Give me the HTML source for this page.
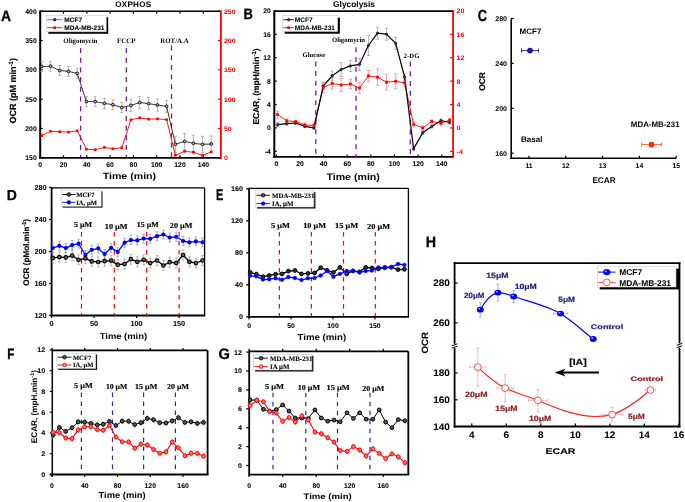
<!DOCTYPE html><html><head><meta charset="utf-8"><style>html,body{margin:0;padding:0;background:#fff;width:685px;height:502px;overflow:hidden}svg{display:block;will-change:transform;text-rendering:geometricPrecision}</style></head><body><svg width="685" height="502" viewBox="0 0 685 502">
<rect width="685" height="502" fill="#fff"/>
<text transform="translate(1.10 20.85) scale(0.921 1)" font-family='"Liberation Sans", sans-serif' font-size="15.07" font-weight="bold" fill="#000" stroke="#000" stroke-width="0.3">A</text>
<text x="133.30" y="6.60" font-family='"Liberation Sans", sans-serif' font-size="8" font-weight="bold" text-anchor="middle" fill="#000" letter-spacing="0.3" stroke="#000" stroke-width="0.05">OXPHOS</text>
<line x1="40.20" y1="157.80" x2="42.70" y2="157.80" stroke="#000" stroke-width="1.2" />
<text x="36.70" y="160.20" font-family='"Liberation Sans", sans-serif' font-size="6.8" font-weight="bold" text-anchor="end" fill="#000"  stroke="#000" stroke-width="0.05">150</text>
<line x1="40.20" y1="128.47" x2="42.70" y2="128.47" stroke="#000" stroke-width="1.2" />
<text x="36.70" y="130.87" font-family='"Liberation Sans", sans-serif' font-size="6.8" font-weight="bold" text-anchor="end" fill="#000"  stroke="#000" stroke-width="0.05">200</text>
<line x1="40.20" y1="99.14" x2="42.70" y2="99.14" stroke="#000" stroke-width="1.2" />
<text x="36.70" y="101.54" font-family='"Liberation Sans", sans-serif' font-size="6.8" font-weight="bold" text-anchor="end" fill="#000"  stroke="#000" stroke-width="0.05">250</text>
<line x1="40.20" y1="69.81" x2="42.70" y2="69.81" stroke="#000" stroke-width="1.2" />
<text x="36.70" y="72.21" font-family='"Liberation Sans", sans-serif' font-size="6.8" font-weight="bold" text-anchor="end" fill="#000"  stroke="#000" stroke-width="0.05">300</text>
<line x1="40.20" y1="40.48" x2="42.70" y2="40.48" stroke="#000" stroke-width="1.2" />
<text x="36.70" y="42.88" font-family='"Liberation Sans", sans-serif' font-size="6.8" font-weight="bold" text-anchor="end" fill="#000"  stroke="#000" stroke-width="0.05">350</text>
<line x1="40.20" y1="11.15" x2="42.70" y2="11.15" stroke="#000" stroke-width="1.2" />
<text x="36.70" y="13.55" font-family='"Liberation Sans", sans-serif' font-size="6.8" font-weight="bold" text-anchor="end" fill="#000"  stroke="#000" stroke-width="0.05">400</text>
<line x1="40.20" y1="157.80" x2="40.20" y2="155.30" stroke="#000" stroke-width="1.2" />
<line x1="40.20" y1="11.20" x2="40.20" y2="13.70" stroke="#000" stroke-width="1.2" />
<text x="40.20" y="167.10" font-family='"Liberation Sans", sans-serif' font-size="6.8" font-weight="bold" text-anchor="middle" fill="#000"  stroke="#000" stroke-width="0.05">0</text>
<line x1="63.50" y1="157.80" x2="63.50" y2="155.30" stroke="#000" stroke-width="1.2" />
<line x1="63.50" y1="11.20" x2="63.50" y2="13.70" stroke="#000" stroke-width="1.2" />
<text x="63.50" y="167.10" font-family='"Liberation Sans", sans-serif' font-size="6.8" font-weight="bold" text-anchor="middle" fill="#000"  stroke="#000" stroke-width="0.05">20</text>
<line x1="86.80" y1="157.80" x2="86.80" y2="155.30" stroke="#000" stroke-width="1.2" />
<line x1="86.80" y1="11.20" x2="86.80" y2="13.70" stroke="#000" stroke-width="1.2" />
<text x="86.80" y="167.10" font-family='"Liberation Sans", sans-serif' font-size="6.8" font-weight="bold" text-anchor="middle" fill="#000"  stroke="#000" stroke-width="0.05">40</text>
<line x1="110.10" y1="157.80" x2="110.10" y2="155.30" stroke="#000" stroke-width="1.2" />
<line x1="110.10" y1="11.20" x2="110.10" y2="13.70" stroke="#000" stroke-width="1.2" />
<text x="110.10" y="167.10" font-family='"Liberation Sans", sans-serif' font-size="6.8" font-weight="bold" text-anchor="middle" fill="#000"  stroke="#000" stroke-width="0.05">60</text>
<line x1="133.40" y1="157.80" x2="133.40" y2="155.30" stroke="#000" stroke-width="1.2" />
<line x1="133.40" y1="11.20" x2="133.40" y2="13.70" stroke="#000" stroke-width="1.2" />
<text x="133.40" y="167.10" font-family='"Liberation Sans", sans-serif' font-size="6.8" font-weight="bold" text-anchor="middle" fill="#000"  stroke="#000" stroke-width="0.05">80</text>
<line x1="156.70" y1="157.80" x2="156.70" y2="155.30" stroke="#000" stroke-width="1.2" />
<line x1="156.70" y1="11.20" x2="156.70" y2="13.70" stroke="#000" stroke-width="1.2" />
<text x="156.70" y="167.10" font-family='"Liberation Sans", sans-serif' font-size="6.8" font-weight="bold" text-anchor="middle" fill="#000"  stroke="#000" stroke-width="0.05">100</text>
<line x1="180.00" y1="157.80" x2="180.00" y2="155.30" stroke="#000" stroke-width="1.2" />
<line x1="180.00" y1="11.20" x2="180.00" y2="13.70" stroke="#000" stroke-width="1.2" />
<text x="180.00" y="167.10" font-family='"Liberation Sans", sans-serif' font-size="6.8" font-weight="bold" text-anchor="middle" fill="#000"  stroke="#000" stroke-width="0.05">120</text>
<line x1="203.30" y1="157.80" x2="203.30" y2="155.30" stroke="#000" stroke-width="1.2" />
<line x1="203.30" y1="11.20" x2="203.30" y2="13.70" stroke="#000" stroke-width="1.2" />
<text x="203.30" y="167.10" font-family='"Liberation Sans", sans-serif' font-size="6.8" font-weight="bold" text-anchor="middle" fill="#000"  stroke="#000" stroke-width="0.05">140</text>
<line x1="220.90" y1="157.80" x2="217.90" y2="157.80" stroke="#ff0000" stroke-width="1.2" />
<text transform="translate(223.90 160.20) scale(1.08 1)" font-family='"Liberation Sans", sans-serif' font-size="6.6" font-weight="bold" text-anchor="start" fill="#ff0000" >0</text>
<line x1="220.90" y1="128.47" x2="217.90" y2="128.47" stroke="#ff0000" stroke-width="1.2" />
<text transform="translate(223.90 130.87) scale(1.08 1)" font-family='"Liberation Sans", sans-serif' font-size="6.6" font-weight="bold" text-anchor="start" fill="#ff0000" >50</text>
<line x1="220.90" y1="99.14" x2="217.90" y2="99.14" stroke="#ff0000" stroke-width="1.2" />
<text transform="translate(223.90 101.54) scale(1.08 1)" font-family='"Liberation Sans", sans-serif' font-size="6.6" font-weight="bold" text-anchor="start" fill="#ff0000" >100</text>
<line x1="220.90" y1="69.81" x2="217.90" y2="69.81" stroke="#ff0000" stroke-width="1.2" />
<text transform="translate(223.90 72.21) scale(1.08 1)" font-family='"Liberation Sans", sans-serif' font-size="6.6" font-weight="bold" text-anchor="start" fill="#ff0000" >150</text>
<line x1="220.90" y1="40.48" x2="217.90" y2="40.48" stroke="#ff0000" stroke-width="1.2" />
<text transform="translate(223.90 42.88) scale(1.08 1)" font-family='"Liberation Sans", sans-serif' font-size="6.6" font-weight="bold" text-anchor="start" fill="#ff0000" >200</text>
<line x1="220.90" y1="11.15" x2="217.90" y2="11.15" stroke="#ff0000" stroke-width="1.2" />
<text transform="translate(223.90 13.55) scale(1.08 1)" font-family='"Liberation Sans", sans-serif' font-size="6.6" font-weight="bold" text-anchor="start" fill="#ff0000" >250</text>
<line x1="40.20" y1="11.20" x2="220.90" y2="11.20" stroke="#000" stroke-width="1.6" />
<line x1="40.20" y1="10.40" x2="40.20" y2="158.70" stroke="#000" stroke-width="2" />
<line x1="39.20" y1="157.80" x2="220.90" y2="157.80" stroke="#000" stroke-width="1.8" />
<line x1="220.90" y1="10.40" x2="220.90" y2="158.70" stroke="#ff0000" stroke-width="1.8" />
<text x="16.50" y="90.80" font-family='"Liberation Sans", sans-serif' font-size="9.0" font-weight="bold" text-anchor="middle" transform="rotate(-90 16.50 90.80)"  stroke="#000" stroke-width="0.15">OCR (pM min<tspan font-size="6.2" dy="-3.3">-1</tspan><tspan dy="3.3">)</tspan></text>
<text transform="translate(102.69 179.10) scale(1.183 1)" font-family='"Liberation Sans", sans-serif' font-size="8.97" font-weight="bold" fill="#000">Time (min)</text>
<line x1="80.60" y1="48.00" x2="80.60" y2="157.00" stroke="#7a1a9a" stroke-width="1.3" stroke-dasharray="5 4.7"/>
<line x1="126.30" y1="48.00" x2="126.30" y2="157.00" stroke="#7a1a9a" stroke-width="1.3" stroke-dasharray="5 4.7"/>
<line x1="171.50" y1="45.50" x2="171.50" y2="157.00" stroke="#7a1a9a" stroke-width="1.3" stroke-dasharray="5 4.7"/>
<text x="80.40" y="43.30" font-family='"Liberation Serif", serif' font-size="6.9" font-weight="bold" text-anchor="middle" fill="#000" >Oligomycin</text>
<text x="126.20" y="43.30" font-family='"Liberation Serif", serif' font-size="6.9" font-weight="bold" text-anchor="middle" fill="#000" >FCCP</text>
<text x="174.50" y="42.80" font-family='"Liberation Serif", serif' font-size="6.9" font-weight="bold" text-anchor="middle" fill="#000" >ROT/A.A</text>
<line x1="41.70" y1="61.60" x2="41.70" y2="71.60" stroke="#999" stroke-width="0.7" />
<line x1="40.10" y1="61.60" x2="43.30" y2="61.60" stroke="#999" stroke-width="0.7" />
<line x1="40.10" y1="71.60" x2="43.30" y2="71.60" stroke="#999" stroke-width="0.7" />
<line x1="50.50" y1="61.20" x2="50.50" y2="71.20" stroke="#999" stroke-width="0.7" />
<line x1="48.90" y1="61.20" x2="52.10" y2="61.20" stroke="#999" stroke-width="0.7" />
<line x1="48.90" y1="71.20" x2="52.10" y2="71.20" stroke="#999" stroke-width="0.7" />
<line x1="59.70" y1="65.50" x2="59.70" y2="75.50" stroke="#999" stroke-width="0.7" />
<line x1="58.10" y1="65.50" x2="61.30" y2="65.50" stroke="#999" stroke-width="0.7" />
<line x1="58.10" y1="75.50" x2="61.30" y2="75.50" stroke="#999" stroke-width="0.7" />
<line x1="68.50" y1="66.40" x2="68.50" y2="76.40" stroke="#999" stroke-width="0.7" />
<line x1="66.90" y1="66.40" x2="70.10" y2="66.40" stroke="#999" stroke-width="0.7" />
<line x1="66.90" y1="76.40" x2="70.10" y2="76.40" stroke="#999" stroke-width="0.7" />
<line x1="77.20" y1="68.40" x2="77.20" y2="78.40" stroke="#999" stroke-width="0.7" />
<line x1="75.60" y1="68.40" x2="78.80" y2="68.40" stroke="#999" stroke-width="0.7" />
<line x1="75.60" y1="78.40" x2="78.80" y2="78.40" stroke="#999" stroke-width="0.7" />
<line x1="86.40" y1="96.60" x2="86.40" y2="106.60" stroke="#999" stroke-width="0.7" />
<line x1="84.80" y1="96.60" x2="88.00" y2="96.60" stroke="#999" stroke-width="0.7" />
<line x1="84.80" y1="106.60" x2="88.00" y2="106.60" stroke="#999" stroke-width="0.7" />
<line x1="95.20" y1="96.60" x2="95.20" y2="106.60" stroke="#999" stroke-width="0.7" />
<line x1="93.60" y1="96.60" x2="96.80" y2="96.60" stroke="#999" stroke-width="0.7" />
<line x1="93.60" y1="106.60" x2="96.80" y2="106.60" stroke="#999" stroke-width="0.7" />
<line x1="104.40" y1="98.40" x2="104.40" y2="108.40" stroke="#999" stroke-width="0.7" />
<line x1="102.80" y1="98.40" x2="106.00" y2="98.40" stroke="#999" stroke-width="0.7" />
<line x1="102.80" y1="108.40" x2="106.00" y2="108.40" stroke="#999" stroke-width="0.7" />
<line x1="112.90" y1="99.70" x2="112.90" y2="109.70" stroke="#999" stroke-width="0.7" />
<line x1="111.30" y1="99.70" x2="114.50" y2="99.70" stroke="#999" stroke-width="0.7" />
<line x1="111.30" y1="109.70" x2="114.50" y2="109.70" stroke="#999" stroke-width="0.7" />
<line x1="121.80" y1="102.60" x2="121.80" y2="112.60" stroke="#999" stroke-width="0.7" />
<line x1="120.20" y1="102.60" x2="123.40" y2="102.60" stroke="#999" stroke-width="0.7" />
<line x1="120.20" y1="112.60" x2="123.40" y2="112.60" stroke="#999" stroke-width="0.7" />
<line x1="130.90" y1="99.40" x2="130.90" y2="111.40" stroke="#999" stroke-width="0.7" />
<line x1="129.30" y1="99.40" x2="132.50" y2="99.40" stroke="#999" stroke-width="0.7" />
<line x1="129.30" y1="111.40" x2="132.50" y2="111.40" stroke="#999" stroke-width="0.7" />
<line x1="139.70" y1="96.50" x2="139.70" y2="108.50" stroke="#999" stroke-width="0.7" />
<line x1="138.10" y1="96.50" x2="141.30" y2="96.50" stroke="#999" stroke-width="0.7" />
<line x1="138.10" y1="108.50" x2="141.30" y2="108.50" stroke="#999" stroke-width="0.7" />
<line x1="148.60" y1="97.70" x2="148.60" y2="109.70" stroke="#999" stroke-width="0.7" />
<line x1="147.00" y1="97.70" x2="150.20" y2="97.70" stroke="#999" stroke-width="0.7" />
<line x1="147.00" y1="109.70" x2="150.20" y2="109.70" stroke="#999" stroke-width="0.7" />
<line x1="157.40" y1="99.00" x2="157.40" y2="111.00" stroke="#999" stroke-width="0.7" />
<line x1="155.80" y1="99.00" x2="159.00" y2="99.00" stroke="#999" stroke-width="0.7" />
<line x1="155.80" y1="111.00" x2="159.00" y2="111.00" stroke="#999" stroke-width="0.7" />
<line x1="166.60" y1="100.30" x2="166.60" y2="112.30" stroke="#999" stroke-width="0.7" />
<line x1="165.00" y1="100.30" x2="168.20" y2="100.30" stroke="#999" stroke-width="0.7" />
<line x1="165.00" y1="112.30" x2="168.20" y2="112.30" stroke="#999" stroke-width="0.7" />
<line x1="175.40" y1="136.30" x2="175.40" y2="152.30" stroke="#999" stroke-width="0.7" />
<line x1="173.80" y1="136.30" x2="177.00" y2="136.30" stroke="#999" stroke-width="0.7" />
<line x1="173.80" y1="152.30" x2="177.00" y2="152.30" stroke="#999" stroke-width="0.7" />
<line x1="184.60" y1="133.40" x2="184.60" y2="149.40" stroke="#999" stroke-width="0.7" />
<line x1="183.00" y1="133.40" x2="186.20" y2="133.40" stroke="#999" stroke-width="0.7" />
<line x1="183.00" y1="149.40" x2="186.20" y2="149.40" stroke="#999" stroke-width="0.7" />
<line x1="193.40" y1="135.30" x2="193.40" y2="151.30" stroke="#999" stroke-width="0.7" />
<line x1="191.80" y1="135.30" x2="195.00" y2="135.30" stroke="#999" stroke-width="0.7" />
<line x1="191.80" y1="151.30" x2="195.00" y2="151.30" stroke="#999" stroke-width="0.7" />
<line x1="202.50" y1="136.30" x2="202.50" y2="152.30" stroke="#999" stroke-width="0.7" />
<line x1="200.90" y1="136.30" x2="204.10" y2="136.30" stroke="#999" stroke-width="0.7" />
<line x1="200.90" y1="152.30" x2="204.10" y2="152.30" stroke="#999" stroke-width="0.7" />
<line x1="211.20" y1="136.00" x2="211.20" y2="152.00" stroke="#999" stroke-width="0.7" />
<line x1="209.60" y1="136.00" x2="212.80" y2="136.00" stroke="#999" stroke-width="0.7" />
<line x1="209.60" y1="152.00" x2="212.80" y2="152.00" stroke="#999" stroke-width="0.7" />
<polyline points="41.70,66.60 50.50,66.20 59.70,70.50 68.50,71.40 77.20,73.40 86.40,101.60 95.20,101.60 104.40,103.40 112.90,104.70 121.80,107.60 130.90,105.40 139.70,102.50 148.60,103.70 157.40,105.00 166.60,106.30 175.40,144.30 184.60,141.40 193.40,143.30 202.50,144.30 211.20,144.00" fill="none" stroke="#222" stroke-width="0.9" stroke-linejoin="round"/>
<polyline points="41.70,135.60 50.50,131.30 59.70,131.70 68.50,132.10 77.20,130.80 86.40,149.20 95.20,149.80 104.40,147.40 112.90,148.80 121.80,147.80 130.90,119.80 139.70,117.80 148.60,119.20 157.40,118.90 166.60,119.60 175.40,155.30 184.60,151.30 193.40,152.30 202.50,155.30 211.20,151.90" fill="none" stroke="#ff0000" stroke-width="0.9" stroke-linejoin="round"/>
<circle cx="41.70" cy="66.60" r="1.4" fill="#bbb" stroke="#000" stroke-width="0.9"/>
<circle cx="50.50" cy="66.20" r="1.4" fill="#bbb" stroke="#000" stroke-width="0.9"/>
<circle cx="59.70" cy="70.50" r="1.4" fill="#bbb" stroke="#000" stroke-width="0.9"/>
<circle cx="68.50" cy="71.40" r="1.4" fill="#bbb" stroke="#000" stroke-width="0.9"/>
<circle cx="77.20" cy="73.40" r="1.4" fill="#bbb" stroke="#000" stroke-width="0.9"/>
<circle cx="86.40" cy="101.60" r="1.4" fill="#bbb" stroke="#000" stroke-width="0.9"/>
<circle cx="95.20" cy="101.60" r="1.4" fill="#bbb" stroke="#000" stroke-width="0.9"/>
<circle cx="104.40" cy="103.40" r="1.4" fill="#bbb" stroke="#000" stroke-width="0.9"/>
<circle cx="112.90" cy="104.70" r="1.4" fill="#bbb" stroke="#000" stroke-width="0.9"/>
<circle cx="121.80" cy="107.60" r="1.4" fill="#bbb" stroke="#000" stroke-width="0.9"/>
<circle cx="130.90" cy="105.40" r="1.4" fill="#bbb" stroke="#000" stroke-width="0.9"/>
<circle cx="139.70" cy="102.50" r="1.4" fill="#bbb" stroke="#000" stroke-width="0.9"/>
<circle cx="148.60" cy="103.70" r="1.4" fill="#bbb" stroke="#000" stroke-width="0.9"/>
<circle cx="157.40" cy="105.00" r="1.4" fill="#bbb" stroke="#000" stroke-width="0.9"/>
<circle cx="166.60" cy="106.30" r="1.4" fill="#bbb" stroke="#000" stroke-width="0.9"/>
<circle cx="175.40" cy="144.30" r="1.4" fill="#bbb" stroke="#000" stroke-width="0.9"/>
<circle cx="184.60" cy="141.40" r="1.4" fill="#bbb" stroke="#000" stroke-width="0.9"/>
<circle cx="193.40" cy="143.30" r="1.4" fill="#bbb" stroke="#000" stroke-width="0.9"/>
<circle cx="202.50" cy="144.30" r="1.4" fill="#bbb" stroke="#000" stroke-width="0.9"/>
<circle cx="211.20" cy="144.00" r="1.4" fill="#bbb" stroke="#000" stroke-width="0.9"/>
<rect x="40.40" y="134.30" width="2.60" height="2.60" fill="#ff0000" stroke="none" stroke-width="0"/>
<rect x="49.20" y="130.00" width="2.60" height="2.60" fill="#ff0000" stroke="none" stroke-width="0"/>
<rect x="58.40" y="130.40" width="2.60" height="2.60" fill="#ff0000" stroke="none" stroke-width="0"/>
<rect x="67.20" y="130.80" width="2.60" height="2.60" fill="#ff0000" stroke="none" stroke-width="0"/>
<rect x="75.90" y="129.50" width="2.60" height="2.60" fill="#ff0000" stroke="none" stroke-width="0"/>
<rect x="85.10" y="147.90" width="2.60" height="2.60" fill="#ff0000" stroke="none" stroke-width="0"/>
<rect x="93.90" y="148.50" width="2.60" height="2.60" fill="#ff0000" stroke="none" stroke-width="0"/>
<rect x="103.10" y="146.10" width="2.60" height="2.60" fill="#ff0000" stroke="none" stroke-width="0"/>
<rect x="111.60" y="147.50" width="2.60" height="2.60" fill="#ff0000" stroke="none" stroke-width="0"/>
<rect x="120.50" y="146.50" width="2.60" height="2.60" fill="#ff0000" stroke="none" stroke-width="0"/>
<rect x="129.60" y="118.50" width="2.60" height="2.60" fill="#ff0000" stroke="none" stroke-width="0"/>
<rect x="138.40" y="116.50" width="2.60" height="2.60" fill="#ff0000" stroke="none" stroke-width="0"/>
<rect x="147.30" y="117.90" width="2.60" height="2.60" fill="#ff0000" stroke="none" stroke-width="0"/>
<rect x="156.10" y="117.60" width="2.60" height="2.60" fill="#ff0000" stroke="none" stroke-width="0"/>
<rect x="165.30" y="118.30" width="2.60" height="2.60" fill="#ff0000" stroke="none" stroke-width="0"/>
<rect x="174.10" y="154.00" width="2.60" height="2.60" fill="#ff0000" stroke="none" stroke-width="0"/>
<rect x="183.30" y="150.00" width="2.60" height="2.60" fill="#ff0000" stroke="none" stroke-width="0"/>
<rect x="192.10" y="151.00" width="2.60" height="2.60" fill="#ff0000" stroke="none" stroke-width="0"/>
<rect x="201.20" y="154.00" width="2.60" height="2.60" fill="#ff0000" stroke="none" stroke-width="0"/>
<rect x="209.90" y="150.60" width="2.60" height="2.60" fill="#ff0000" stroke="none" stroke-width="0"/>
<rect x="48.40" y="17.30" width="59.80" height="16.50" fill="#000" stroke="none" stroke-width="0"/>
<rect x="46.40" y="15.30" width="59.80" height="16.50" fill="#fff" stroke="#c8c8c8" stroke-width="0.6"/>
<line x1="47.20" y1="19.70" x2="62.20" y2="19.70" stroke="#666" stroke-width="0.9" />
<circle cx="54.70" cy="19.70" r="1.2" fill="#555" stroke="#000" stroke-width="0.9"/>
<text x="64.30" y="22.00" font-family='"Liberation Sans", sans-serif' font-size="6.5" font-weight="bold" text-anchor="start" fill="#000"  stroke="#000" stroke-width="0.1">MCF7</text>
<line x1="47.20" y1="27.70" x2="62.20" y2="27.70" stroke="#ff0000" stroke-width="0.9" />
<rect x="53.40" y="26.40" width="2.60" height="2.60" fill="#ff0000" stroke="none" stroke-width="0"/>
<text x="64.30" y="30.00" font-family='"Liberation Sans", sans-serif' font-size="6.5" font-weight="bold" text-anchor="start" fill="#000"  stroke="#000" stroke-width="0.1">MDA-MB-231</text>
<text transform="translate(243.41 18.55) scale(0.859 1)" font-family='"Liberation Sans", sans-serif' font-size="15.07" font-weight="bold" fill="#000" stroke="#000" stroke-width="0.3">B</text>
<text x="354.00" y="7.00" font-family='"Liberation Sans", sans-serif' font-size="8.4" font-weight="bold" text-anchor="middle" fill="#000"  stroke="#000" stroke-width="0.05">Glycolysis</text>
<line x1="274.30" y1="151.30" x2="276.80" y2="151.30" stroke="#000" stroke-width="1.2" />
<text x="270.80" y="153.70" font-family='"Liberation Sans", sans-serif' font-size="6.8" font-weight="bold" text-anchor="end" fill="#000"  stroke="#000" stroke-width="0.05">-4</text>
<line x1="453.10" y1="151.30" x2="450.10" y2="151.30" stroke="#ff0000" stroke-width="1.2" />
<text transform="translate(456.60 153.70) scale(1.08 1)" font-family='"Liberation Sans", sans-serif' font-size="6.6" font-weight="bold" text-anchor="start" fill="#ff0000" >-4</text>
<line x1="274.30" y1="127.90" x2="276.80" y2="127.90" stroke="#000" stroke-width="1.2" />
<text x="270.80" y="130.30" font-family='"Liberation Sans", sans-serif' font-size="6.8" font-weight="bold" text-anchor="end" fill="#000"  stroke="#000" stroke-width="0.05">0</text>
<line x1="453.10" y1="127.90" x2="450.10" y2="127.90" stroke="#ff0000" stroke-width="1.2" />
<text transform="translate(456.60 130.30) scale(1.08 1)" font-family='"Liberation Sans", sans-serif' font-size="6.6" font-weight="bold" text-anchor="start" fill="#ff0000" >0</text>
<line x1="274.30" y1="104.50" x2="276.80" y2="104.50" stroke="#000" stroke-width="1.2" />
<text x="270.80" y="106.90" font-family='"Liberation Sans", sans-serif' font-size="6.8" font-weight="bold" text-anchor="end" fill="#000"  stroke="#000" stroke-width="0.05">4</text>
<line x1="453.10" y1="104.50" x2="450.10" y2="104.50" stroke="#ff0000" stroke-width="1.2" />
<text transform="translate(456.60 106.90) scale(1.08 1)" font-family='"Liberation Sans", sans-serif' font-size="6.6" font-weight="bold" text-anchor="start" fill="#ff0000" >4</text>
<line x1="274.30" y1="81.10" x2="276.80" y2="81.10" stroke="#000" stroke-width="1.2" />
<text x="270.80" y="83.50" font-family='"Liberation Sans", sans-serif' font-size="6.8" font-weight="bold" text-anchor="end" fill="#000"  stroke="#000" stroke-width="0.05">8</text>
<line x1="453.10" y1="81.10" x2="450.10" y2="81.10" stroke="#ff0000" stroke-width="1.2" />
<text transform="translate(456.60 83.50) scale(1.08 1)" font-family='"Liberation Sans", sans-serif' font-size="6.6" font-weight="bold" text-anchor="start" fill="#ff0000" >8</text>
<line x1="274.30" y1="57.70" x2="276.80" y2="57.70" stroke="#000" stroke-width="1.2" />
<text x="270.80" y="60.10" font-family='"Liberation Sans", sans-serif' font-size="6.8" font-weight="bold" text-anchor="end" fill="#000"  stroke="#000" stroke-width="0.05">12</text>
<line x1="453.10" y1="57.70" x2="450.10" y2="57.70" stroke="#ff0000" stroke-width="1.2" />
<text transform="translate(456.60 60.10) scale(1.08 1)" font-family='"Liberation Sans", sans-serif' font-size="6.6" font-weight="bold" text-anchor="start" fill="#ff0000" >12</text>
<line x1="274.30" y1="34.30" x2="276.80" y2="34.30" stroke="#000" stroke-width="1.2" />
<text x="270.80" y="36.70" font-family='"Liberation Sans", sans-serif' font-size="6.8" font-weight="bold" text-anchor="end" fill="#000"  stroke="#000" stroke-width="0.05">16</text>
<line x1="453.10" y1="34.30" x2="450.10" y2="34.30" stroke="#ff0000" stroke-width="1.2" />
<text transform="translate(456.60 36.70) scale(1.08 1)" font-family='"Liberation Sans", sans-serif' font-size="6.6" font-weight="bold" text-anchor="start" fill="#ff0000" >16</text>
<line x1="274.30" y1="10.90" x2="276.80" y2="10.90" stroke="#000" stroke-width="1.2" />
<text x="270.80" y="13.30" font-family='"Liberation Sans", sans-serif' font-size="6.8" font-weight="bold" text-anchor="end" fill="#000"  stroke="#000" stroke-width="0.05">20</text>
<line x1="453.10" y1="10.90" x2="450.10" y2="10.90" stroke="#ff0000" stroke-width="1.2" />
<text transform="translate(456.60 13.30) scale(1.08 1)" font-family='"Liberation Sans", sans-serif' font-size="6.6" font-weight="bold" text-anchor="start" fill="#ff0000" >20</text>
<line x1="276.30" y1="156.90" x2="276.30" y2="154.40" stroke="#000" stroke-width="1.2" />
<text x="276.30" y="166.20" font-family='"Liberation Sans", sans-serif' font-size="6.8" font-weight="bold" text-anchor="middle" fill="#000"  stroke="#000" stroke-width="0.05">0</text>
<line x1="299.93" y1="156.90" x2="299.93" y2="154.40" stroke="#000" stroke-width="1.2" />
<text x="299.93" y="166.20" font-family='"Liberation Sans", sans-serif' font-size="6.8" font-weight="bold" text-anchor="middle" fill="#000"  stroke="#000" stroke-width="0.05">20</text>
<line x1="323.56" y1="156.90" x2="323.56" y2="154.40" stroke="#000" stroke-width="1.2" />
<text x="323.56" y="166.20" font-family='"Liberation Sans", sans-serif' font-size="6.8" font-weight="bold" text-anchor="middle" fill="#000"  stroke="#000" stroke-width="0.05">40</text>
<line x1="347.19" y1="156.90" x2="347.19" y2="154.40" stroke="#000" stroke-width="1.2" />
<text x="347.19" y="166.20" font-family='"Liberation Sans", sans-serif' font-size="6.8" font-weight="bold" text-anchor="middle" fill="#000"  stroke="#000" stroke-width="0.05">60</text>
<line x1="370.82" y1="156.90" x2="370.82" y2="154.40" stroke="#000" stroke-width="1.2" />
<text x="370.82" y="166.20" font-family='"Liberation Sans", sans-serif' font-size="6.8" font-weight="bold" text-anchor="middle" fill="#000"  stroke="#000" stroke-width="0.05">80</text>
<line x1="394.45" y1="156.90" x2="394.45" y2="154.40" stroke="#000" stroke-width="1.2" />
<text x="394.45" y="166.20" font-family='"Liberation Sans", sans-serif' font-size="6.8" font-weight="bold" text-anchor="middle" fill="#000"  stroke="#000" stroke-width="0.05">100</text>
<line x1="418.08" y1="156.90" x2="418.08" y2="154.40" stroke="#000" stroke-width="1.2" />
<text x="418.08" y="166.20" font-family='"Liberation Sans", sans-serif' font-size="6.8" font-weight="bold" text-anchor="middle" fill="#000"  stroke="#000" stroke-width="0.05">120</text>
<line x1="441.71" y1="156.90" x2="441.71" y2="154.40" stroke="#000" stroke-width="1.2" />
<text x="441.71" y="166.20" font-family='"Liberation Sans", sans-serif' font-size="6.8" font-weight="bold" text-anchor="middle" fill="#000"  stroke="#000" stroke-width="0.05">140</text>
<line x1="274.30" y1="11.10" x2="453.10" y2="11.10" stroke="#000" stroke-width="1.6" />
<line x1="274.30" y1="10.30" x2="274.30" y2="157.80" stroke="#000" stroke-width="2" />
<line x1="273.30" y1="156.90" x2="453.10" y2="156.90" stroke="#000" stroke-width="1.8" />
<line x1="453.10" y1="10.30" x2="453.10" y2="157.80" stroke="#ff0000" stroke-width="1.8" />
<text x="259.20" y="86.50" font-family='"Liberation Sans", sans-serif' font-size="8.5" font-weight="bold" text-anchor="middle" transform="rotate(-90 259.20 86.50)"  stroke="#000" stroke-width="0.15">ECAR, (mpH/min<tspan font-size="6.0" dy="-3.2">-1</tspan><tspan dy="3.2">)</tspan></text>
<text transform="translate(326.39 180.30) scale(1.133 1)" font-family='"Liberation Sans", sans-serif' font-size="9.38" font-weight="bold" fill="#000">Time (min)</text>
<line x1="315.80" y1="61.40" x2="315.80" y2="154.00" stroke="#7a1a9a" stroke-width="1.3" stroke-dasharray="5 4.7"/>
<line x1="356.00" y1="47.30" x2="356.00" y2="157.00" stroke="#7a1a9a" stroke-width="1.3" stroke-dasharray="5 4.7"/>
<line x1="410.30" y1="61.60" x2="410.30" y2="154.00" stroke="#7a1a9a" stroke-width="1.3" stroke-dasharray="5 4.7"/>
<text x="313.80" y="57.20" font-family='"Liberation Serif", serif' font-size="6.7" font-weight="bold" text-anchor="middle" fill="#000" >Glucose</text>
<text x="348.50" y="42.20" font-family='"Liberation Serif", serif' font-size="6.7" font-weight="bold" text-anchor="middle" fill="#000" >Oligomycin</text>
<text x="411.60" y="58.20" font-family='"Liberation Serif", serif' font-size="6.7" font-weight="bold" text-anchor="middle" fill="#000" >2-DG</text>
<line x1="277.50" y1="122.70" x2="277.50" y2="126.70" stroke="#999" stroke-width="0.7" />
<line x1="275.90" y1="122.70" x2="279.10" y2="122.70" stroke="#999" stroke-width="0.7" />
<line x1="275.90" y1="126.70" x2="279.10" y2="126.70" stroke="#999" stroke-width="0.7" />
<line x1="286.70" y1="122.20" x2="286.70" y2="125.20" stroke="#999" stroke-width="0.7" />
<line x1="285.10" y1="122.20" x2="288.30" y2="122.20" stroke="#999" stroke-width="0.7" />
<line x1="285.10" y1="125.20" x2="288.30" y2="125.20" stroke="#999" stroke-width="0.7" />
<line x1="295.70" y1="121.50" x2="295.70" y2="124.50" stroke="#999" stroke-width="0.7" />
<line x1="294.10" y1="121.50" x2="297.30" y2="121.50" stroke="#999" stroke-width="0.7" />
<line x1="294.10" y1="124.50" x2="297.30" y2="124.50" stroke="#999" stroke-width="0.7" />
<line x1="304.80" y1="124.80" x2="304.80" y2="127.80" stroke="#999" stroke-width="0.7" />
<line x1="303.20" y1="124.80" x2="306.40" y2="124.80" stroke="#999" stroke-width="0.7" />
<line x1="303.20" y1="127.80" x2="306.40" y2="127.80" stroke="#999" stroke-width="0.7" />
<line x1="314.00" y1="126.40" x2="314.00" y2="129.40" stroke="#999" stroke-width="0.7" />
<line x1="312.40" y1="126.40" x2="315.60" y2="126.40" stroke="#999" stroke-width="0.7" />
<line x1="312.40" y1="129.40" x2="315.60" y2="129.40" stroke="#999" stroke-width="0.7" />
<line x1="323.20" y1="83.00" x2="323.20" y2="89.00" stroke="#999" stroke-width="0.7" />
<line x1="321.60" y1="83.00" x2="324.80" y2="83.00" stroke="#999" stroke-width="0.7" />
<line x1="321.60" y1="89.00" x2="324.80" y2="89.00" stroke="#999" stroke-width="0.7" />
<line x1="332.20" y1="71.00" x2="332.20" y2="80.60" stroke="#999" stroke-width="0.7" />
<line x1="330.60" y1="71.00" x2="333.80" y2="71.00" stroke="#999" stroke-width="0.7" />
<line x1="330.60" y1="80.60" x2="333.80" y2="80.60" stroke="#999" stroke-width="0.7" />
<line x1="341.20" y1="62.60" x2="341.20" y2="76.40" stroke="#999" stroke-width="0.7" />
<line x1="339.60" y1="62.60" x2="342.80" y2="62.60" stroke="#999" stroke-width="0.7" />
<line x1="339.60" y1="76.40" x2="342.80" y2="76.40" stroke="#999" stroke-width="0.7" />
<line x1="350.40" y1="60.40" x2="350.40" y2="71.40" stroke="#999" stroke-width="0.7" />
<line x1="348.80" y1="60.40" x2="352.00" y2="60.40" stroke="#999" stroke-width="0.7" />
<line x1="348.80" y1="71.40" x2="352.00" y2="71.40" stroke="#999" stroke-width="0.7" />
<line x1="359.40" y1="58.40" x2="359.40" y2="70.40" stroke="#999" stroke-width="0.7" />
<line x1="357.80" y1="58.40" x2="361.00" y2="58.40" stroke="#999" stroke-width="0.7" />
<line x1="357.80" y1="70.40" x2="361.00" y2="70.40" stroke="#999" stroke-width="0.7" />
<line x1="368.40" y1="35.50" x2="368.40" y2="55.50" stroke="#999" stroke-width="0.7" />
<line x1="366.80" y1="35.50" x2="370.00" y2="35.50" stroke="#999" stroke-width="0.7" />
<line x1="366.80" y1="55.50" x2="370.00" y2="55.50" stroke="#999" stroke-width="0.7" />
<line x1="377.50" y1="27.10" x2="377.50" y2="39.10" stroke="#999" stroke-width="0.7" />
<line x1="375.90" y1="27.10" x2="379.10" y2="27.10" stroke="#999" stroke-width="0.7" />
<line x1="375.90" y1="39.10" x2="379.10" y2="39.10" stroke="#999" stroke-width="0.7" />
<line x1="386.50" y1="28.20" x2="386.50" y2="40.20" stroke="#999" stroke-width="0.7" />
<line x1="384.90" y1="28.20" x2="388.10" y2="28.20" stroke="#999" stroke-width="0.7" />
<line x1="384.90" y1="40.20" x2="388.10" y2="40.20" stroke="#999" stroke-width="0.7" />
<line x1="395.70" y1="37.40" x2="395.70" y2="49.40" stroke="#999" stroke-width="0.7" />
<line x1="394.10" y1="37.40" x2="397.30" y2="37.40" stroke="#999" stroke-width="0.7" />
<line x1="394.10" y1="49.40" x2="397.30" y2="49.40" stroke="#999" stroke-width="0.7" />
<line x1="404.60" y1="74.00" x2="404.60" y2="80.00" stroke="#999" stroke-width="0.7" />
<line x1="403.00" y1="74.00" x2="406.20" y2="74.00" stroke="#999" stroke-width="0.7" />
<line x1="403.00" y1="80.00" x2="406.20" y2="80.00" stroke="#999" stroke-width="0.7" />
<line x1="413.60" y1="146.90" x2="413.60" y2="150.90" stroke="#999" stroke-width="0.7" />
<line x1="412.00" y1="146.90" x2="415.20" y2="146.90" stroke="#999" stroke-width="0.7" />
<line x1="412.00" y1="150.90" x2="415.20" y2="150.90" stroke="#999" stroke-width="0.7" />
<line x1="422.70" y1="130.70" x2="422.70" y2="134.70" stroke="#999" stroke-width="0.7" />
<line x1="421.10" y1="130.70" x2="424.30" y2="130.70" stroke="#999" stroke-width="0.7" />
<line x1="421.10" y1="134.70" x2="424.30" y2="134.70" stroke="#999" stroke-width="0.7" />
<line x1="431.70" y1="125.00" x2="431.70" y2="128.00" stroke="#999" stroke-width="0.7" />
<line x1="430.10" y1="125.00" x2="433.30" y2="125.00" stroke="#999" stroke-width="0.7" />
<line x1="430.10" y1="128.00" x2="433.30" y2="128.00" stroke="#999" stroke-width="0.7" />
<line x1="441.00" y1="119.00" x2="441.00" y2="122.00" stroke="#999" stroke-width="0.7" />
<line x1="439.40" y1="119.00" x2="442.60" y2="119.00" stroke="#999" stroke-width="0.7" />
<line x1="439.40" y1="122.00" x2="442.60" y2="122.00" stroke="#999" stroke-width="0.7" />
<line x1="449.60" y1="121.00" x2="449.60" y2="124.00" stroke="#999" stroke-width="0.7" />
<line x1="448.00" y1="121.00" x2="451.20" y2="121.00" stroke="#999" stroke-width="0.7" />
<line x1="448.00" y1="124.00" x2="451.20" y2="124.00" stroke="#999" stroke-width="0.7" />
<line x1="277.50" y1="111.10" x2="277.50" y2="118.10" stroke="#f08080" stroke-width="0.7" />
<line x1="275.90" y1="111.10" x2="279.10" y2="111.10" stroke="#f08080" stroke-width="0.7" />
<line x1="275.90" y1="118.10" x2="279.10" y2="118.10" stroke="#f08080" stroke-width="0.7" />
<line x1="286.70" y1="118.80" x2="286.70" y2="122.80" stroke="#f08080" stroke-width="0.7" />
<line x1="285.10" y1="118.80" x2="288.30" y2="118.80" stroke="#f08080" stroke-width="0.7" />
<line x1="285.10" y1="122.80" x2="288.30" y2="122.80" stroke="#f08080" stroke-width="0.7" />
<line x1="295.70" y1="120.20" x2="295.70" y2="123.20" stroke="#f08080" stroke-width="0.7" />
<line x1="294.10" y1="120.20" x2="297.30" y2="120.20" stroke="#f08080" stroke-width="0.7" />
<line x1="294.10" y1="123.20" x2="297.30" y2="123.20" stroke="#f08080" stroke-width="0.7" />
<line x1="304.80" y1="123.00" x2="304.80" y2="127.00" stroke="#f08080" stroke-width="0.7" />
<line x1="303.20" y1="123.00" x2="306.40" y2="123.00" stroke="#f08080" stroke-width="0.7" />
<line x1="303.20" y1="127.00" x2="306.40" y2="127.00" stroke="#f08080" stroke-width="0.7" />
<line x1="314.00" y1="123.40" x2="314.00" y2="127.40" stroke="#f08080" stroke-width="0.7" />
<line x1="312.40" y1="123.40" x2="315.60" y2="123.40" stroke="#f08080" stroke-width="0.7" />
<line x1="312.40" y1="127.40" x2="315.60" y2="127.40" stroke="#f08080" stroke-width="0.7" />
<line x1="323.20" y1="82.10" x2="323.20" y2="93.10" stroke="#f08080" stroke-width="0.7" />
<line x1="321.60" y1="82.10" x2="324.80" y2="82.10" stroke="#f08080" stroke-width="0.7" />
<line x1="321.60" y1="93.10" x2="324.80" y2="93.10" stroke="#f08080" stroke-width="0.7" />
<line x1="332.20" y1="77.60" x2="332.20" y2="89.20" stroke="#f08080" stroke-width="0.7" />
<line x1="330.60" y1="77.60" x2="333.80" y2="77.60" stroke="#f08080" stroke-width="0.7" />
<line x1="330.60" y1="89.20" x2="333.80" y2="89.20" stroke="#f08080" stroke-width="0.7" />
<line x1="341.20" y1="78.50" x2="341.20" y2="91.50" stroke="#f08080" stroke-width="0.7" />
<line x1="339.60" y1="78.50" x2="342.80" y2="78.50" stroke="#f08080" stroke-width="0.7" />
<line x1="339.60" y1="91.50" x2="342.80" y2="91.50" stroke="#f08080" stroke-width="0.7" />
<line x1="350.40" y1="79.20" x2="350.40" y2="88.80" stroke="#f08080" stroke-width="0.7" />
<line x1="348.80" y1="79.20" x2="352.00" y2="79.20" stroke="#f08080" stroke-width="0.7" />
<line x1="348.80" y1="88.80" x2="352.00" y2="88.80" stroke="#f08080" stroke-width="0.7" />
<line x1="359.40" y1="82.50" x2="359.40" y2="93.50" stroke="#f08080" stroke-width="0.7" />
<line x1="357.80" y1="82.50" x2="361.00" y2="82.50" stroke="#f08080" stroke-width="0.7" />
<line x1="357.80" y1="93.50" x2="361.00" y2="93.50" stroke="#f08080" stroke-width="0.7" />
<line x1="368.40" y1="70.40" x2="368.40" y2="81.40" stroke="#f08080" stroke-width="0.7" />
<line x1="366.80" y1="70.40" x2="370.00" y2="70.40" stroke="#f08080" stroke-width="0.7" />
<line x1="366.80" y1="81.40" x2="370.00" y2="81.40" stroke="#f08080" stroke-width="0.7" />
<line x1="377.50" y1="69.00" x2="377.50" y2="85.40" stroke="#f08080" stroke-width="0.7" />
<line x1="375.90" y1="69.00" x2="379.10" y2="69.00" stroke="#f08080" stroke-width="0.7" />
<line x1="375.90" y1="85.40" x2="379.10" y2="85.40" stroke="#f08080" stroke-width="0.7" />
<line x1="386.50" y1="74.30" x2="386.50" y2="90.10" stroke="#f08080" stroke-width="0.7" />
<line x1="384.90" y1="74.30" x2="388.10" y2="74.30" stroke="#f08080" stroke-width="0.7" />
<line x1="384.90" y1="90.10" x2="388.10" y2="90.10" stroke="#f08080" stroke-width="0.7" />
<line x1="395.70" y1="73.80" x2="395.70" y2="88.80" stroke="#f08080" stroke-width="0.7" />
<line x1="394.10" y1="73.80" x2="397.30" y2="73.80" stroke="#f08080" stroke-width="0.7" />
<line x1="394.10" y1="88.80" x2="397.30" y2="88.80" stroke="#f08080" stroke-width="0.7" />
<line x1="404.60" y1="78.90" x2="404.60" y2="86.90" stroke="#f08080" stroke-width="0.7" />
<line x1="403.00" y1="78.90" x2="406.20" y2="78.90" stroke="#f08080" stroke-width="0.7" />
<line x1="403.00" y1="86.90" x2="406.20" y2="86.90" stroke="#f08080" stroke-width="0.7" />
<line x1="413.60" y1="121.80" x2="413.60" y2="126.80" stroke="#f08080" stroke-width="0.7" />
<line x1="412.00" y1="121.80" x2="415.20" y2="121.80" stroke="#f08080" stroke-width="0.7" />
<line x1="412.00" y1="126.80" x2="415.20" y2="126.80" stroke="#f08080" stroke-width="0.7" />
<line x1="422.70" y1="125.90" x2="422.70" y2="129.90" stroke="#f08080" stroke-width="0.7" />
<line x1="421.10" y1="125.90" x2="424.30" y2="125.90" stroke="#f08080" stroke-width="0.7" />
<line x1="421.10" y1="129.90" x2="424.30" y2="129.90" stroke="#f08080" stroke-width="0.7" />
<line x1="431.70" y1="119.90" x2="431.70" y2="122.90" stroke="#f08080" stroke-width="0.7" />
<line x1="430.10" y1="119.90" x2="433.30" y2="119.90" stroke="#f08080" stroke-width="0.7" />
<line x1="430.10" y1="122.90" x2="433.30" y2="122.90" stroke="#f08080" stroke-width="0.7" />
<line x1="441.00" y1="121.70" x2="441.00" y2="124.70" stroke="#f08080" stroke-width="0.7" />
<line x1="439.40" y1="121.70" x2="442.60" y2="121.70" stroke="#f08080" stroke-width="0.7" />
<line x1="439.40" y1="124.70" x2="442.60" y2="124.70" stroke="#f08080" stroke-width="0.7" />
<line x1="449.60" y1="118.70" x2="449.60" y2="121.70" stroke="#f08080" stroke-width="0.7" />
<line x1="448.00" y1="118.70" x2="451.20" y2="118.70" stroke="#f08080" stroke-width="0.7" />
<line x1="448.00" y1="121.70" x2="451.20" y2="121.70" stroke="#f08080" stroke-width="0.7" />
<polyline points="277.50,114.60 286.70,120.80 295.70,121.70 304.80,125.00 314.00,125.40 323.20,87.60 332.20,83.40 341.20,85.00 350.40,84.00 359.40,88.00 368.40,75.90 377.50,77.20 386.50,82.20 395.70,81.30 404.60,82.90 413.60,124.30 422.70,127.90 431.70,121.40 441.00,123.20 449.60,120.20" fill="none" stroke="#ff0000" stroke-width="0.9" stroke-linejoin="round"/>
<polyline points="277.50,124.70 286.70,123.70 295.70,123.00 304.80,126.30 314.00,127.90 323.20,86.00 332.20,75.80 341.20,69.50 350.40,65.90 359.40,64.40 368.40,45.50 377.50,33.10 386.50,34.20 395.70,43.40 404.60,77.00 413.60,148.90 422.70,132.70 431.70,126.50 441.00,120.50 449.60,122.50" fill="none" stroke="#000" stroke-width="1.2" stroke-linejoin="round"/>
<circle cx="277.50" cy="124.70" r="1.2" fill="#444" stroke="#000" stroke-width="0.6"/>
<circle cx="286.70" cy="123.70" r="1.2" fill="#444" stroke="#000" stroke-width="0.6"/>
<circle cx="295.70" cy="123.00" r="1.2" fill="#444" stroke="#000" stroke-width="0.6"/>
<circle cx="304.80" cy="126.30" r="1.2" fill="#444" stroke="#000" stroke-width="0.6"/>
<circle cx="314.00" cy="127.90" r="1.2" fill="#444" stroke="#000" stroke-width="0.6"/>
<circle cx="323.20" cy="86.00" r="1.2" fill="#444" stroke="#000" stroke-width="0.6"/>
<circle cx="332.20" cy="75.80" r="1.2" fill="#444" stroke="#000" stroke-width="0.6"/>
<circle cx="341.20" cy="69.50" r="1.2" fill="#444" stroke="#000" stroke-width="0.6"/>
<circle cx="350.40" cy="65.90" r="1.2" fill="#444" stroke="#000" stroke-width="0.6"/>
<circle cx="359.40" cy="64.40" r="1.2" fill="#444" stroke="#000" stroke-width="0.6"/>
<circle cx="368.40" cy="45.50" r="1.2" fill="#444" stroke="#000" stroke-width="0.6"/>
<circle cx="377.50" cy="33.10" r="1.2" fill="#444" stroke="#000" stroke-width="0.6"/>
<circle cx="386.50" cy="34.20" r="1.2" fill="#444" stroke="#000" stroke-width="0.6"/>
<circle cx="395.70" cy="43.40" r="1.2" fill="#444" stroke="#000" stroke-width="0.6"/>
<circle cx="404.60" cy="77.00" r="1.2" fill="#444" stroke="#000" stroke-width="0.6"/>
<circle cx="413.60" cy="148.90" r="1.2" fill="#444" stroke="#000" stroke-width="0.6"/>
<circle cx="422.70" cy="132.70" r="1.2" fill="#444" stroke="#000" stroke-width="0.6"/>
<circle cx="431.70" cy="126.50" r="1.2" fill="#444" stroke="#000" stroke-width="0.6"/>
<circle cx="441.00" cy="120.50" r="1.2" fill="#444" stroke="#000" stroke-width="0.6"/>
<circle cx="449.60" cy="122.50" r="1.2" fill="#444" stroke="#000" stroke-width="0.6"/>
<rect x="276.10" y="113.20" width="2.80" height="2.80" fill="#ff0000" stroke="none" stroke-width="0"/>
<rect x="285.30" y="119.40" width="2.80" height="2.80" fill="#ff0000" stroke="none" stroke-width="0"/>
<rect x="294.30" y="120.30" width="2.80" height="2.80" fill="#ff0000" stroke="none" stroke-width="0"/>
<rect x="303.40" y="123.60" width="2.80" height="2.80" fill="#ff0000" stroke="none" stroke-width="0"/>
<rect x="312.60" y="124.00" width="2.80" height="2.80" fill="#ff0000" stroke="none" stroke-width="0"/>
<rect x="321.80" y="86.20" width="2.80" height="2.80" fill="#ff0000" stroke="none" stroke-width="0"/>
<rect x="330.80" y="82.00" width="2.80" height="2.80" fill="#ff0000" stroke="none" stroke-width="0"/>
<rect x="339.80" y="83.60" width="2.80" height="2.80" fill="#ff0000" stroke="none" stroke-width="0"/>
<rect x="349.00" y="82.60" width="2.80" height="2.80" fill="#ff0000" stroke="none" stroke-width="0"/>
<rect x="358.00" y="86.60" width="2.80" height="2.80" fill="#ff0000" stroke="none" stroke-width="0"/>
<rect x="367.00" y="74.50" width="2.80" height="2.80" fill="#ff0000" stroke="none" stroke-width="0"/>
<rect x="376.10" y="75.80" width="2.80" height="2.80" fill="#ff0000" stroke="none" stroke-width="0"/>
<rect x="385.10" y="80.80" width="2.80" height="2.80" fill="#ff0000" stroke="none" stroke-width="0"/>
<rect x="394.30" y="79.90" width="2.80" height="2.80" fill="#ff0000" stroke="none" stroke-width="0"/>
<rect x="403.20" y="81.50" width="2.80" height="2.80" fill="#ff0000" stroke="none" stroke-width="0"/>
<rect x="412.20" y="122.90" width="2.80" height="2.80" fill="#ff0000" stroke="none" stroke-width="0"/>
<rect x="421.30" y="126.50" width="2.80" height="2.80" fill="#ff0000" stroke="none" stroke-width="0"/>
<rect x="430.30" y="120.00" width="2.80" height="2.80" fill="#ff0000" stroke="none" stroke-width="0"/>
<rect x="439.60" y="121.80" width="2.80" height="2.80" fill="#ff0000" stroke="none" stroke-width="0"/>
<rect x="448.20" y="118.80" width="2.80" height="2.80" fill="#ff0000" stroke="none" stroke-width="0"/>
<rect x="284.70" y="17.70" width="55.20" height="16.00" fill="#000" stroke="none" stroke-width="0"/>
<rect x="282.50" y="15.50" width="55.20" height="16.00" fill="#fff" stroke="#c8c8c8" stroke-width="0.6"/>
<line x1="283.30" y1="19.70" x2="293.80" y2="19.70" stroke="#000" stroke-width="0.9" />
<circle cx="288.55" cy="19.70" r="1.1" fill="#555" stroke="#000" stroke-width="0.9"/>
<text x="294.80" y="22.00" font-family='"Liberation Sans", sans-serif' font-size="6.5" font-weight="bold" text-anchor="start" fill="#000"  stroke="#000" stroke-width="0.05">MCF7</text>
<line x1="283.30" y1="27.70" x2="293.80" y2="27.70" stroke="#ff0000" stroke-width="0.9" />
<rect x="287.25" y="26.40" width="2.60" height="2.60" fill="#ff0000" stroke="none" stroke-width="0"/>
<text x="294.80" y="30.00" font-family='"Liberation Sans", sans-serif' font-size="6.5" font-weight="bold" text-anchor="start" fill="#000"  stroke="#000" stroke-width="0.05">MDA-MB-231</text>
<text transform="translate(477.64 21.39) scale(0.799 1)" font-family='"Liberation Sans", sans-serif' font-size="16.06" font-weight="bold" fill="#000" stroke="#000" stroke-width="0.3">C</text>
<line x1="511.20" y1="18.50" x2="511.20" y2="159.10" stroke="#000" stroke-width="1.6" />
<line x1="510.40" y1="158.20" x2="676.20" y2="158.20" stroke="#000" stroke-width="1.6" />
<line x1="511.20" y1="153.20" x2="513.70" y2="153.20" stroke="#000" stroke-width="1.2" />
<text transform="translate(507.00 155.60) scale(1.04 1)" font-family='"Liberation Sans", sans-serif' font-size="6.8" font-weight="bold" text-anchor="end" fill="#000" >160</text>
<line x1="511.20" y1="108.30" x2="513.70" y2="108.30" stroke="#000" stroke-width="1.2" />
<text transform="translate(507.00 110.70) scale(1.04 1)" font-family='"Liberation Sans", sans-serif' font-size="6.8" font-weight="bold" text-anchor="end" fill="#000" >200</text>
<line x1="511.20" y1="63.40" x2="513.70" y2="63.40" stroke="#000" stroke-width="1.2" />
<text transform="translate(507.00 65.80) scale(1.04 1)" font-family='"Liberation Sans", sans-serif' font-size="6.8" font-weight="bold" text-anchor="end" fill="#000" >240</text>
<line x1="511.20" y1="18.50" x2="513.70" y2="18.50" stroke="#000" stroke-width="1.2" />
<text transform="translate(507.00 20.90) scale(1.04 1)" font-family='"Liberation Sans", sans-serif' font-size="6.8" font-weight="bold" text-anchor="end" fill="#000" >280</text>
<line x1="529.00" y1="158.20" x2="529.00" y2="155.70" stroke="#000" stroke-width="1.2" />
<text x="529.00" y="167.70" font-family='"Liberation Sans", sans-serif' font-size="6.8" font-weight="bold" text-anchor="middle" fill="#000" >11</text>
<line x1="565.80" y1="158.20" x2="565.80" y2="155.70" stroke="#000" stroke-width="1.2" />
<text x="565.80" y="167.70" font-family='"Liberation Sans", sans-serif' font-size="6.8" font-weight="bold" text-anchor="middle" fill="#000" >12</text>
<line x1="602.60" y1="158.20" x2="602.60" y2="155.70" stroke="#000" stroke-width="1.2" />
<text x="602.60" y="167.70" font-family='"Liberation Sans", sans-serif' font-size="6.8" font-weight="bold" text-anchor="middle" fill="#000" >13</text>
<line x1="639.40" y1="158.20" x2="639.40" y2="155.70" stroke="#000" stroke-width="1.2" />
<text x="639.40" y="167.70" font-family='"Liberation Sans", sans-serif' font-size="6.8" font-weight="bold" text-anchor="middle" fill="#000" >14</text>
<line x1="676.20" y1="158.20" x2="676.20" y2="155.70" stroke="#000" stroke-width="1.2" />
<text x="676.20" y="167.70" font-family='"Liberation Sans", sans-serif' font-size="6.8" font-weight="bold" text-anchor="middle" fill="#000" >15</text>
<text x="485.20" y="81.50" font-family='"Liberation Sans", sans-serif' font-size="8.4" font-weight="bold" text-anchor="middle" transform="rotate(-90 485.20 81.50)"  stroke="#000" stroke-width="0.15">OCR</text>
<text x="604.00" y="183.00" font-family='"Liberation Sans", sans-serif' font-size="8.2" font-weight="bold" text-anchor="middle" fill="#000" >ECAR</text>
<text x="530.50" y="34.20" font-family='"Liberation Sans", sans-serif' font-size="8.0" font-weight="bold" text-anchor="middle" fill="#000" >MCF7</text>
<text x="531.70" y="142.00" font-family='"Liberation Sans", sans-serif' font-size="8.0" font-weight="bold" text-anchor="middle" fill="#000" >Basal</text>
<text x="655.20" y="126.60" font-family='"Liberation Sans", sans-serif' font-size="7.9" font-weight="bold" text-anchor="middle" fill="#000" >MDA-MB-231</text>
<line x1="521.50" y1="50.60" x2="538.50" y2="50.60" stroke="#1a1aa0" stroke-width="0.9" />
<line x1="521.50" y1="48.60" x2="521.50" y2="52.60" stroke="#1a1aa0" stroke-width="0.9" />
<line x1="538.50" y1="48.60" x2="538.50" y2="52.60" stroke="#1a1aa0" stroke-width="0.9" />
<circle cx="530.00" cy="50.60" r="2.9" fill="#1a1aa0" stroke="none" stroke-width="0"/>
<line x1="641.60" y1="144.60" x2="661.30" y2="144.60" stroke="#f06020" stroke-width="0.9" />
<line x1="641.60" y1="142.60" x2="641.60" y2="146.60" stroke="#f06020" stroke-width="0.9" />
<line x1="661.30" y1="142.60" x2="661.30" y2="146.60" stroke="#f06020" stroke-width="0.9" />
<circle cx="651.50" cy="144.60" r="2.9" fill="#f03010" stroke="none" stroke-width="0"/>
<text transform="translate(6.74 200.45) scale(0.965 1)" font-family='"Liberation Sans", sans-serif' font-size="14.49" font-weight="bold" fill="#000" stroke="#000" stroke-width="0.3">D</text>
<line x1="49.10" y1="315.50" x2="51.60" y2="315.50" stroke="#000" stroke-width="1.2" />
<text x="46.60" y="318.10" font-family='"Liberation Sans", sans-serif' font-size="7.3" font-weight="bold" text-anchor="end" fill="#000"  stroke="#000" stroke-width="0.05">120</text>
<line x1="49.10" y1="283.50" x2="51.60" y2="283.50" stroke="#000" stroke-width="1.2" />
<text x="46.60" y="286.10" font-family='"Liberation Sans", sans-serif' font-size="7.3" font-weight="bold" text-anchor="end" fill="#000"  stroke="#000" stroke-width="0.05">160</text>
<line x1="49.10" y1="251.50" x2="51.60" y2="251.50" stroke="#000" stroke-width="1.2" />
<text x="46.60" y="254.10" font-family='"Liberation Sans", sans-serif' font-size="7.3" font-weight="bold" text-anchor="end" fill="#000"  stroke="#000" stroke-width="0.05">200</text>
<line x1="49.10" y1="219.50" x2="51.60" y2="219.50" stroke="#000" stroke-width="1.2" />
<text x="46.60" y="222.10" font-family='"Liberation Sans", sans-serif' font-size="7.3" font-weight="bold" text-anchor="end" fill="#000"  stroke="#000" stroke-width="0.05">240</text>
<line x1="49.10" y1="187.50" x2="51.60" y2="187.50" stroke="#000" stroke-width="1.2" />
<text x="46.60" y="190.10" font-family='"Liberation Sans", sans-serif' font-size="7.3" font-weight="bold" text-anchor="end" fill="#000"  stroke="#000" stroke-width="0.05">280</text>
<line x1="51.60" y1="315.50" x2="51.60" y2="318.00" stroke="#000" stroke-width="1.2" />
<text x="51.60" y="325.90" font-family='"Liberation Sans", sans-serif' font-size="7.3" font-weight="bold" text-anchor="middle" fill="#000"  stroke="#000" stroke-width="0.05">0</text>
<line x1="94.10" y1="315.50" x2="94.10" y2="318.00" stroke="#000" stroke-width="1.2" />
<text x="94.10" y="325.90" font-family='"Liberation Sans", sans-serif' font-size="7.3" font-weight="bold" text-anchor="middle" fill="#000"  stroke="#000" stroke-width="0.05">50</text>
<line x1="136.60" y1="315.50" x2="136.60" y2="318.00" stroke="#000" stroke-width="1.2" />
<text x="136.60" y="325.90" font-family='"Liberation Sans", sans-serif' font-size="7.3" font-weight="bold" text-anchor="middle" fill="#000"  stroke="#000" stroke-width="0.05">100</text>
<line x1="179.10" y1="315.50" x2="179.10" y2="318.00" stroke="#000" stroke-width="1.2" />
<text x="179.10" y="325.90" font-family='"Liberation Sans", sans-serif' font-size="7.3" font-weight="bold" text-anchor="middle" fill="#000"  stroke="#000" stroke-width="0.05">150</text>
<line x1="51.60" y1="187.90" x2="204.60" y2="187.90" stroke="#000" stroke-width="1.3" />
<line x1="204.60" y1="187.90" x2="204.60" y2="315.50" stroke="#000" stroke-width="1.3" />
<line x1="51.60" y1="187.30" x2="51.60" y2="316.40" stroke="#000" stroke-width="1.8" />
<line x1="50.70" y1="315.50" x2="205.20" y2="315.50" stroke="#000" stroke-width="1.8" />
<text x="29.20" y="252.30" font-family='"Liberation Sans", sans-serif' font-size="8.2" font-weight="bold" text-anchor="middle" transform="rotate(-90 29.20 252.30)"  stroke="#000" stroke-width="0.15">OCR (pMol.min<tspan font-size="5.6" dy="-3.2">-1</tspan><tspan dy="3.2">)</tspan></text>
<text transform="translate(99.71 339.00) scale(1.101 1)" font-family='"Liberation Sans", sans-serif' font-size="8.55" font-weight="bold" fill="#000">Time (min)</text>
<line x1="81.50" y1="232.00" x2="81.50" y2="315.00" stroke="#ff0000" stroke-width="1.2" stroke-dasharray="4.5 4.5"/>
<line x1="114.30" y1="232.00" x2="114.30" y2="315.00" stroke="#ff0000" stroke-width="1.2" stroke-dasharray="4.5 4.5"/>
<line x1="146.70" y1="232.00" x2="146.70" y2="315.00" stroke="#ff0000" stroke-width="1.2" stroke-dasharray="4.5 4.5"/>
<line x1="179.10" y1="232.00" x2="179.10" y2="315.00" stroke="#ff0000" stroke-width="1.2" stroke-dasharray="4.5 4.5"/>
<text transform="translate(73.98 227.30) scale(1.057 1)" font-family='"Liberation Serif", serif' font-size="7.60" font-weight="bold" fill="#000" stroke="#000" stroke-width="0.15">5 μM</text>
<text transform="translate(104.74 228.60) scale(1.092 1)" font-family='"Liberation Serif", serif' font-size="7.60" font-weight="bold" fill="#000" stroke="#000" stroke-width="0.15">10 μM</text>
<text transform="translate(136.87 227.30) scale(1.043 1)" font-family='"Liberation Serif", serif' font-size="7.60" font-weight="bold" fill="#000" stroke="#000" stroke-width="0.15">15 μM</text>
<text transform="translate(169.87 227.80) scale(1.076 1)" font-family='"Liberation Serif", serif' font-size="7.60" font-weight="bold" fill="#000" stroke="#000" stroke-width="0.15">20 μM</text>
<line x1="52.70" y1="243.60" x2="52.70" y2="252.60" stroke="#7777cc" stroke-width="0.6" />
<line x1="51.40" y1="243.60" x2="54.00" y2="243.60" stroke="#7777cc" stroke-width="0.6" />
<line x1="51.40" y1="252.60" x2="54.00" y2="252.60" stroke="#7777cc" stroke-width="0.6" />
<line x1="59.30" y1="241.30" x2="59.30" y2="250.30" stroke="#7777cc" stroke-width="0.6" />
<line x1="58.00" y1="241.30" x2="60.60" y2="241.30" stroke="#7777cc" stroke-width="0.6" />
<line x1="58.00" y1="250.30" x2="60.60" y2="250.30" stroke="#7777cc" stroke-width="0.6" />
<line x1="65.80" y1="243.60" x2="65.80" y2="252.60" stroke="#7777cc" stroke-width="0.6" />
<line x1="64.50" y1="243.60" x2="67.10" y2="243.60" stroke="#7777cc" stroke-width="0.6" />
<line x1="64.50" y1="252.60" x2="67.10" y2="252.60" stroke="#7777cc" stroke-width="0.6" />
<line x1="72.20" y1="240.60" x2="72.20" y2="249.60" stroke="#7777cc" stroke-width="0.6" />
<line x1="70.90" y1="240.60" x2="73.50" y2="240.60" stroke="#7777cc" stroke-width="0.6" />
<line x1="70.90" y1="249.60" x2="73.50" y2="249.60" stroke="#7777cc" stroke-width="0.6" />
<line x1="78.60" y1="239.20" x2="78.60" y2="248.20" stroke="#7777cc" stroke-width="0.6" />
<line x1="77.30" y1="239.20" x2="79.90" y2="239.20" stroke="#7777cc" stroke-width="0.6" />
<line x1="77.30" y1="248.20" x2="79.90" y2="248.20" stroke="#7777cc" stroke-width="0.6" />
<line x1="85.40" y1="250.50" x2="85.40" y2="259.50" stroke="#7777cc" stroke-width="0.6" />
<line x1="84.10" y1="250.50" x2="86.70" y2="250.50" stroke="#7777cc" stroke-width="0.6" />
<line x1="84.10" y1="259.50" x2="86.70" y2="259.50" stroke="#7777cc" stroke-width="0.6" />
<line x1="91.80" y1="245.30" x2="91.80" y2="254.30" stroke="#7777cc" stroke-width="0.6" />
<line x1="90.50" y1="245.30" x2="93.10" y2="245.30" stroke="#7777cc" stroke-width="0.6" />
<line x1="90.50" y1="254.30" x2="93.10" y2="254.30" stroke="#7777cc" stroke-width="0.6" />
<line x1="98.20" y1="243.90" x2="98.20" y2="252.90" stroke="#7777cc" stroke-width="0.6" />
<line x1="96.90" y1="243.90" x2="99.50" y2="243.90" stroke="#7777cc" stroke-width="0.6" />
<line x1="96.90" y1="252.90" x2="99.50" y2="252.90" stroke="#7777cc" stroke-width="0.6" />
<line x1="104.60" y1="249.50" x2="104.60" y2="258.50" stroke="#7777cc" stroke-width="0.6" />
<line x1="103.30" y1="249.50" x2="105.90" y2="249.50" stroke="#7777cc" stroke-width="0.6" />
<line x1="103.30" y1="258.50" x2="105.90" y2="258.50" stroke="#7777cc" stroke-width="0.6" />
<line x1="111.10" y1="243.30" x2="111.10" y2="252.30" stroke="#7777cc" stroke-width="0.6" />
<line x1="109.80" y1="243.30" x2="112.40" y2="243.30" stroke="#7777cc" stroke-width="0.6" />
<line x1="109.80" y1="252.30" x2="112.40" y2="252.30" stroke="#7777cc" stroke-width="0.6" />
<line x1="117.70" y1="247.40" x2="117.70" y2="256.40" stroke="#7777cc" stroke-width="0.6" />
<line x1="116.40" y1="247.40" x2="119.00" y2="247.40" stroke="#7777cc" stroke-width="0.6" />
<line x1="116.40" y1="256.40" x2="119.00" y2="256.40" stroke="#7777cc" stroke-width="0.6" />
<line x1="124.60" y1="238.20" x2="124.60" y2="247.20" stroke="#7777cc" stroke-width="0.6" />
<line x1="123.30" y1="238.20" x2="125.90" y2="238.20" stroke="#7777cc" stroke-width="0.6" />
<line x1="123.30" y1="247.20" x2="125.90" y2="247.20" stroke="#7777cc" stroke-width="0.6" />
<line x1="130.90" y1="235.60" x2="130.90" y2="244.60" stroke="#7777cc" stroke-width="0.6" />
<line x1="129.60" y1="235.60" x2="132.20" y2="235.60" stroke="#7777cc" stroke-width="0.6" />
<line x1="129.60" y1="244.60" x2="132.20" y2="244.60" stroke="#7777cc" stroke-width="0.6" />
<line x1="137.30" y1="235.90" x2="137.30" y2="244.90" stroke="#7777cc" stroke-width="0.6" />
<line x1="136.00" y1="235.90" x2="138.60" y2="235.90" stroke="#7777cc" stroke-width="0.6" />
<line x1="136.00" y1="244.90" x2="138.60" y2="244.90" stroke="#7777cc" stroke-width="0.6" />
<line x1="143.70" y1="234.00" x2="143.70" y2="243.00" stroke="#7777cc" stroke-width="0.6" />
<line x1="142.40" y1="234.00" x2="145.00" y2="234.00" stroke="#7777cc" stroke-width="0.6" />
<line x1="142.40" y1="243.00" x2="145.00" y2="243.00" stroke="#7777cc" stroke-width="0.6" />
<line x1="150.20" y1="234.30" x2="150.20" y2="243.30" stroke="#7777cc" stroke-width="0.6" />
<line x1="148.90" y1="234.30" x2="151.50" y2="234.30" stroke="#7777cc" stroke-width="0.6" />
<line x1="148.90" y1="243.30" x2="151.50" y2="243.30" stroke="#7777cc" stroke-width="0.6" />
<line x1="157.00" y1="231.70" x2="157.00" y2="240.70" stroke="#7777cc" stroke-width="0.6" />
<line x1="155.70" y1="231.70" x2="158.30" y2="231.70" stroke="#7777cc" stroke-width="0.6" />
<line x1="155.70" y1="240.70" x2="158.30" y2="240.70" stroke="#7777cc" stroke-width="0.6" />
<line x1="163.40" y1="230.00" x2="163.40" y2="239.00" stroke="#7777cc" stroke-width="0.6" />
<line x1="162.10" y1="230.00" x2="164.70" y2="230.00" stroke="#7777cc" stroke-width="0.6" />
<line x1="162.10" y1="239.00" x2="164.70" y2="239.00" stroke="#7777cc" stroke-width="0.6" />
<line x1="169.70" y1="233.00" x2="169.70" y2="242.00" stroke="#7777cc" stroke-width="0.6" />
<line x1="168.40" y1="233.00" x2="171.00" y2="233.00" stroke="#7777cc" stroke-width="0.6" />
<line x1="168.40" y1="242.00" x2="171.00" y2="242.00" stroke="#7777cc" stroke-width="0.6" />
<line x1="176.20" y1="232.30" x2="176.20" y2="241.30" stroke="#7777cc" stroke-width="0.6" />
<line x1="174.90" y1="232.30" x2="177.50" y2="232.30" stroke="#7777cc" stroke-width="0.6" />
<line x1="174.90" y1="241.30" x2="177.50" y2="241.30" stroke="#7777cc" stroke-width="0.6" />
<line x1="183.10" y1="236.50" x2="183.10" y2="245.50" stroke="#7777cc" stroke-width="0.6" />
<line x1="181.80" y1="236.50" x2="184.40" y2="236.50" stroke="#7777cc" stroke-width="0.6" />
<line x1="181.80" y1="245.50" x2="184.40" y2="245.50" stroke="#7777cc" stroke-width="0.6" />
<line x1="189.40" y1="237.80" x2="189.40" y2="246.80" stroke="#7777cc" stroke-width="0.6" />
<line x1="188.10" y1="237.80" x2="190.70" y2="237.80" stroke="#7777cc" stroke-width="0.6" />
<line x1="188.10" y1="246.80" x2="190.70" y2="246.80" stroke="#7777cc" stroke-width="0.6" />
<line x1="195.90" y1="236.90" x2="195.90" y2="245.90" stroke="#7777cc" stroke-width="0.6" />
<line x1="194.60" y1="236.90" x2="197.20" y2="236.90" stroke="#7777cc" stroke-width="0.6" />
<line x1="194.60" y1="245.90" x2="197.20" y2="245.90" stroke="#7777cc" stroke-width="0.6" />
<line x1="202.50" y1="237.80" x2="202.50" y2="246.80" stroke="#7777cc" stroke-width="0.6" />
<line x1="201.20" y1="237.80" x2="203.80" y2="237.80" stroke="#7777cc" stroke-width="0.6" />
<line x1="201.20" y1="246.80" x2="203.80" y2="246.80" stroke="#7777cc" stroke-width="0.6" />
<line x1="52.70" y1="252.90" x2="52.70" y2="262.90" stroke="#888" stroke-width="0.6" />
<line x1="51.40" y1="252.90" x2="54.00" y2="252.90" stroke="#888" stroke-width="0.6" />
<line x1="51.40" y1="262.90" x2="54.00" y2="262.90" stroke="#888" stroke-width="0.6" />
<line x1="59.30" y1="252.10" x2="59.30" y2="262.10" stroke="#888" stroke-width="0.6" />
<line x1="58.00" y1="252.10" x2="60.60" y2="252.10" stroke="#888" stroke-width="0.6" />
<line x1="58.00" y1="262.10" x2="60.60" y2="262.10" stroke="#888" stroke-width="0.6" />
<line x1="65.80" y1="252.40" x2="65.80" y2="262.40" stroke="#888" stroke-width="0.6" />
<line x1="64.50" y1="252.40" x2="67.10" y2="252.40" stroke="#888" stroke-width="0.6" />
<line x1="64.50" y1="262.40" x2="67.10" y2="262.40" stroke="#888" stroke-width="0.6" />
<line x1="72.20" y1="250.60" x2="72.20" y2="260.60" stroke="#888" stroke-width="0.6" />
<line x1="70.90" y1="250.60" x2="73.50" y2="250.60" stroke="#888" stroke-width="0.6" />
<line x1="70.90" y1="260.60" x2="73.50" y2="260.60" stroke="#888" stroke-width="0.6" />
<line x1="78.60" y1="254.80" x2="78.60" y2="264.80" stroke="#888" stroke-width="0.6" />
<line x1="77.30" y1="254.80" x2="79.90" y2="254.80" stroke="#888" stroke-width="0.6" />
<line x1="77.30" y1="264.80" x2="79.90" y2="264.80" stroke="#888" stroke-width="0.6" />
<line x1="85.40" y1="253.30" x2="85.40" y2="263.30" stroke="#888" stroke-width="0.6" />
<line x1="84.10" y1="253.30" x2="86.70" y2="253.30" stroke="#888" stroke-width="0.6" />
<line x1="84.10" y1="263.30" x2="86.70" y2="263.30" stroke="#888" stroke-width="0.6" />
<line x1="91.80" y1="256.40" x2="91.80" y2="266.40" stroke="#888" stroke-width="0.6" />
<line x1="90.50" y1="256.40" x2="93.10" y2="256.40" stroke="#888" stroke-width="0.6" />
<line x1="90.50" y1="266.40" x2="93.10" y2="266.40" stroke="#888" stroke-width="0.6" />
<line x1="98.20" y1="257.00" x2="98.20" y2="267.00" stroke="#888" stroke-width="0.6" />
<line x1="96.90" y1="257.00" x2="99.50" y2="257.00" stroke="#888" stroke-width="0.6" />
<line x1="96.90" y1="267.00" x2="99.50" y2="267.00" stroke="#888" stroke-width="0.6" />
<line x1="104.60" y1="256.20" x2="104.60" y2="266.20" stroke="#888" stroke-width="0.6" />
<line x1="103.30" y1="256.20" x2="105.90" y2="256.20" stroke="#888" stroke-width="0.6" />
<line x1="103.30" y1="266.20" x2="105.90" y2="266.20" stroke="#888" stroke-width="0.6" />
<line x1="111.10" y1="255.60" x2="111.10" y2="265.60" stroke="#888" stroke-width="0.6" />
<line x1="109.80" y1="255.60" x2="112.40" y2="255.60" stroke="#888" stroke-width="0.6" />
<line x1="109.80" y1="265.60" x2="112.40" y2="265.60" stroke="#888" stroke-width="0.6" />
<line x1="117.70" y1="259.70" x2="117.70" y2="269.70" stroke="#888" stroke-width="0.6" />
<line x1="116.40" y1="259.70" x2="119.00" y2="259.70" stroke="#888" stroke-width="0.6" />
<line x1="116.40" y1="269.70" x2="119.00" y2="269.70" stroke="#888" stroke-width="0.6" />
<line x1="124.60" y1="259.00" x2="124.60" y2="269.00" stroke="#888" stroke-width="0.6" />
<line x1="123.30" y1="259.00" x2="125.90" y2="259.00" stroke="#888" stroke-width="0.6" />
<line x1="123.30" y1="269.00" x2="125.90" y2="269.00" stroke="#888" stroke-width="0.6" />
<line x1="130.90" y1="254.20" x2="130.90" y2="264.20" stroke="#888" stroke-width="0.6" />
<line x1="129.60" y1="254.20" x2="132.20" y2="254.20" stroke="#888" stroke-width="0.6" />
<line x1="129.60" y1="264.20" x2="132.20" y2="264.20" stroke="#888" stroke-width="0.6" />
<line x1="137.30" y1="256.80" x2="137.30" y2="266.80" stroke="#888" stroke-width="0.6" />
<line x1="136.00" y1="256.80" x2="138.60" y2="256.80" stroke="#888" stroke-width="0.6" />
<line x1="136.00" y1="266.80" x2="138.60" y2="266.80" stroke="#888" stroke-width="0.6" />
<line x1="143.70" y1="254.80" x2="143.70" y2="264.80" stroke="#888" stroke-width="0.6" />
<line x1="142.40" y1="254.80" x2="145.00" y2="254.80" stroke="#888" stroke-width="0.6" />
<line x1="142.40" y1="264.80" x2="145.00" y2="264.80" stroke="#888" stroke-width="0.6" />
<line x1="150.20" y1="258.10" x2="150.20" y2="268.10" stroke="#888" stroke-width="0.6" />
<line x1="148.90" y1="258.10" x2="151.50" y2="258.10" stroke="#888" stroke-width="0.6" />
<line x1="148.90" y1="268.10" x2="151.50" y2="268.10" stroke="#888" stroke-width="0.6" />
<line x1="157.00" y1="255.50" x2="157.00" y2="265.50" stroke="#888" stroke-width="0.6" />
<line x1="155.70" y1="255.50" x2="158.30" y2="255.50" stroke="#888" stroke-width="0.6" />
<line x1="155.70" y1="265.50" x2="158.30" y2="265.50" stroke="#888" stroke-width="0.6" />
<line x1="163.40" y1="260.50" x2="163.40" y2="270.50" stroke="#888" stroke-width="0.6" />
<line x1="162.10" y1="260.50" x2="164.70" y2="260.50" stroke="#888" stroke-width="0.6" />
<line x1="162.10" y1="270.50" x2="164.70" y2="270.50" stroke="#888" stroke-width="0.6" />
<line x1="169.70" y1="257.20" x2="169.70" y2="267.20" stroke="#888" stroke-width="0.6" />
<line x1="168.40" y1="257.20" x2="171.00" y2="257.20" stroke="#888" stroke-width="0.6" />
<line x1="168.40" y1="267.20" x2="171.00" y2="267.20" stroke="#888" stroke-width="0.6" />
<line x1="176.20" y1="258.10" x2="176.20" y2="268.10" stroke="#888" stroke-width="0.6" />
<line x1="174.90" y1="258.10" x2="177.50" y2="258.10" stroke="#888" stroke-width="0.6" />
<line x1="174.90" y1="268.10" x2="177.50" y2="268.10" stroke="#888" stroke-width="0.6" />
<line x1="183.10" y1="250.00" x2="183.10" y2="260.00" stroke="#888" stroke-width="0.6" />
<line x1="181.80" y1="250.00" x2="184.40" y2="250.00" stroke="#888" stroke-width="0.6" />
<line x1="181.80" y1="260.00" x2="184.40" y2="260.00" stroke="#888" stroke-width="0.6" />
<line x1="189.40" y1="256.80" x2="189.40" y2="266.80" stroke="#888" stroke-width="0.6" />
<line x1="188.10" y1="256.80" x2="190.70" y2="256.80" stroke="#888" stroke-width="0.6" />
<line x1="188.10" y1="266.80" x2="190.70" y2="266.80" stroke="#888" stroke-width="0.6" />
<line x1="195.90" y1="258.10" x2="195.90" y2="268.10" stroke="#888" stroke-width="0.6" />
<line x1="194.60" y1="258.10" x2="197.20" y2="258.10" stroke="#888" stroke-width="0.6" />
<line x1="194.60" y1="268.10" x2="197.20" y2="268.10" stroke="#888" stroke-width="0.6" />
<line x1="202.50" y1="255.50" x2="202.50" y2="265.50" stroke="#888" stroke-width="0.6" />
<line x1="201.20" y1="255.50" x2="203.80" y2="255.50" stroke="#888" stroke-width="0.6" />
<line x1="201.20" y1="265.50" x2="203.80" y2="265.50" stroke="#888" stroke-width="0.6" />
<polyline points="52.70,248.10 59.30,245.80 65.80,248.10 72.20,245.10 78.60,243.70 85.40,255.00 91.80,249.80 98.20,248.40 104.60,254.00 111.10,247.80 117.70,251.90 124.60,242.70 130.90,240.10 137.30,240.40 143.70,238.50 150.20,238.80 157.00,236.20 163.40,234.50 169.70,237.50 176.20,236.80 183.10,241.00 189.40,242.30 195.90,241.40 202.50,242.30" fill="none" stroke="#0000ff" stroke-width="1.3" stroke-linejoin="round"/>
<polyline points="52.70,257.90 59.30,257.10 65.80,257.40 72.20,255.60 78.60,259.80 85.40,258.30 91.80,261.40 98.20,262.00 104.60,261.20 111.10,260.60 117.70,264.70 124.60,264.00 130.90,259.20 137.30,261.80 143.70,259.80 150.20,263.10 157.00,260.50 163.40,265.50 169.70,262.20 176.20,263.10 183.10,255.00 189.40,261.80 195.90,263.10 202.50,260.50" fill="none" stroke="#000" stroke-width="1.3" stroke-linejoin="round"/>
<circle cx="52.70" cy="248.10" r="2.1" fill="#0000ff" stroke="none" stroke-width="0"/>
<circle cx="59.30" cy="245.80" r="2.1" fill="#0000ff" stroke="none" stroke-width="0"/>
<circle cx="65.80" cy="248.10" r="2.1" fill="#0000ff" stroke="none" stroke-width="0"/>
<circle cx="72.20" cy="245.10" r="2.1" fill="#0000ff" stroke="none" stroke-width="0"/>
<circle cx="78.60" cy="243.70" r="2.1" fill="#0000ff" stroke="none" stroke-width="0"/>
<circle cx="85.40" cy="255.00" r="2.1" fill="#0000ff" stroke="none" stroke-width="0"/>
<circle cx="91.80" cy="249.80" r="2.1" fill="#0000ff" stroke="none" stroke-width="0"/>
<circle cx="98.20" cy="248.40" r="2.1" fill="#0000ff" stroke="none" stroke-width="0"/>
<circle cx="104.60" cy="254.00" r="2.1" fill="#0000ff" stroke="none" stroke-width="0"/>
<circle cx="111.10" cy="247.80" r="2.1" fill="#0000ff" stroke="none" stroke-width="0"/>
<circle cx="117.70" cy="251.90" r="2.1" fill="#0000ff" stroke="none" stroke-width="0"/>
<circle cx="124.60" cy="242.70" r="2.1" fill="#0000ff" stroke="none" stroke-width="0"/>
<circle cx="130.90" cy="240.10" r="2.1" fill="#0000ff" stroke="none" stroke-width="0"/>
<circle cx="137.30" cy="240.40" r="2.1" fill="#0000ff" stroke="none" stroke-width="0"/>
<circle cx="143.70" cy="238.50" r="2.1" fill="#0000ff" stroke="none" stroke-width="0"/>
<circle cx="150.20" cy="238.80" r="2.1" fill="#0000ff" stroke="none" stroke-width="0"/>
<circle cx="157.00" cy="236.20" r="2.1" fill="#0000ff" stroke="none" stroke-width="0"/>
<circle cx="163.40" cy="234.50" r="2.1" fill="#0000ff" stroke="none" stroke-width="0"/>
<circle cx="169.70" cy="237.50" r="2.1" fill="#0000ff" stroke="none" stroke-width="0"/>
<circle cx="176.20" cy="236.80" r="2.1" fill="#0000ff" stroke="none" stroke-width="0"/>
<circle cx="183.10" cy="241.00" r="2.1" fill="#0000ff" stroke="none" stroke-width="0"/>
<circle cx="189.40" cy="242.30" r="2.1" fill="#0000ff" stroke="none" stroke-width="0"/>
<circle cx="195.90" cy="241.40" r="2.1" fill="#0000ff" stroke="none" stroke-width="0"/>
<circle cx="202.50" cy="242.30" r="2.1" fill="#0000ff" stroke="none" stroke-width="0"/>
<circle cx="52.70" cy="257.90" r="1.8" fill="#666" stroke="#000" stroke-width="1.1"/>
<circle cx="59.30" cy="257.10" r="1.8" fill="#666" stroke="#000" stroke-width="1.1"/>
<circle cx="65.80" cy="257.40" r="1.8" fill="#666" stroke="#000" stroke-width="1.1"/>
<circle cx="72.20" cy="255.60" r="1.8" fill="#666" stroke="#000" stroke-width="1.1"/>
<circle cx="78.60" cy="259.80" r="1.8" fill="#666" stroke="#000" stroke-width="1.1"/>
<circle cx="85.40" cy="258.30" r="1.8" fill="#666" stroke="#000" stroke-width="1.1"/>
<circle cx="91.80" cy="261.40" r="1.8" fill="#666" stroke="#000" stroke-width="1.1"/>
<circle cx="98.20" cy="262.00" r="1.8" fill="#666" stroke="#000" stroke-width="1.1"/>
<circle cx="104.60" cy="261.20" r="1.8" fill="#666" stroke="#000" stroke-width="1.1"/>
<circle cx="111.10" cy="260.60" r="1.8" fill="#666" stroke="#000" stroke-width="1.1"/>
<circle cx="117.70" cy="264.70" r="1.8" fill="#666" stroke="#000" stroke-width="1.1"/>
<circle cx="124.60" cy="264.00" r="1.8" fill="#666" stroke="#000" stroke-width="1.1"/>
<circle cx="130.90" cy="259.20" r="1.8" fill="#666" stroke="#000" stroke-width="1.1"/>
<circle cx="137.30" cy="261.80" r="1.8" fill="#666" stroke="#000" stroke-width="1.1"/>
<circle cx="143.70" cy="259.80" r="1.8" fill="#666" stroke="#000" stroke-width="1.1"/>
<circle cx="150.20" cy="263.10" r="1.8" fill="#666" stroke="#000" stroke-width="1.1"/>
<circle cx="157.00" cy="260.50" r="1.8" fill="#666" stroke="#000" stroke-width="1.1"/>
<circle cx="163.40" cy="265.50" r="1.8" fill="#666" stroke="#000" stroke-width="1.1"/>
<circle cx="169.70" cy="262.20" r="1.8" fill="#666" stroke="#000" stroke-width="1.1"/>
<circle cx="176.20" cy="263.10" r="1.8" fill="#666" stroke="#000" stroke-width="1.1"/>
<circle cx="183.10" cy="255.00" r="1.8" fill="#666" stroke="#000" stroke-width="1.1"/>
<circle cx="189.40" cy="261.80" r="1.8" fill="#666" stroke="#000" stroke-width="1.1"/>
<circle cx="195.90" cy="263.10" r="1.8" fill="#666" stroke="#000" stroke-width="1.1"/>
<circle cx="202.50" cy="260.50" r="1.8" fill="#666" stroke="#000" stroke-width="1.1"/>
<rect x="62.70" y="191.50" width="39.80" height="16.10" fill="#000" stroke="none" stroke-width="0"/>
<rect x="61.40" y="190.20" width="39.80" height="16.10" fill="#fff" stroke="#c8c8c8" stroke-width="0.6"/>
<line x1="62.20" y1="194.50" x2="75.50" y2="194.50" stroke="#000" stroke-width="0.9" />
<circle cx="68.85" cy="194.50" r="1.8" fill="#555" stroke="#000" stroke-width="0.9"/>
<text x="76.30" y="196.80" font-family='"Liberation Serif", serif' font-size="6.6" font-weight="bold" text-anchor="start" fill="#000"  stroke="#000" stroke-width="0.1">MCF7</text>
<line x1="62.20" y1="202.30" x2="75.50" y2="202.30" stroke="#0000ff" stroke-width="0.9" />
<circle cx="68.85" cy="202.30" r="2.1" fill="#0000ff" stroke="none" stroke-width="0"/>
<text x="76.30" y="204.60" font-family='"Liberation Serif", serif' font-size="6.6" font-weight="bold" text-anchor="start" fill="#000"  stroke="#000" stroke-width="0.1">IA,  μM</text>
<text transform="translate(216.04 199.85) scale(0.708 1)" font-family='"Liberation Sans", sans-serif' font-size="15.51" font-weight="bold" fill="#000" stroke="#000" stroke-width="0.3">E</text>
<line x1="246.10" y1="316.90" x2="249.10" y2="316.90" stroke="#000" stroke-width="1.2" />
<text transform="translate(243.10 319.30) scale(1.06 1)" font-family='"Liberation Sans", sans-serif' font-size="6.8" font-weight="bold" text-anchor="end" fill="#000"  stroke="#000" stroke-width="0.05">0</text>
<line x1="246.10" y1="284.90" x2="249.10" y2="284.90" stroke="#000" stroke-width="1.2" />
<text transform="translate(243.10 287.30) scale(1.06 1)" font-family='"Liberation Sans", sans-serif' font-size="6.8" font-weight="bold" text-anchor="end" fill="#000"  stroke="#000" stroke-width="0.05">40</text>
<line x1="246.10" y1="252.90" x2="249.10" y2="252.90" stroke="#000" stroke-width="1.2" />
<text transform="translate(243.10 255.30) scale(1.06 1)" font-family='"Liberation Sans", sans-serif' font-size="6.8" font-weight="bold" text-anchor="end" fill="#000"  stroke="#000" stroke-width="0.05">80</text>
<line x1="246.10" y1="220.90" x2="249.10" y2="220.90" stroke="#000" stroke-width="1.2" />
<text transform="translate(243.10 223.30) scale(1.06 1)" font-family='"Liberation Sans", sans-serif' font-size="6.8" font-weight="bold" text-anchor="end" fill="#000"  stroke="#000" stroke-width="0.05">120</text>
<line x1="246.10" y1="188.90" x2="249.10" y2="188.90" stroke="#000" stroke-width="1.2" />
<text transform="translate(243.10 191.30) scale(1.06 1)" font-family='"Liberation Sans", sans-serif' font-size="6.8" font-weight="bold" text-anchor="end" fill="#000"  stroke="#000" stroke-width="0.05">160</text>
<line x1="249.10" y1="316.90" x2="249.10" y2="319.40" stroke="#000" stroke-width="1.2" />
<text x="249.10" y="328.40" font-family='"Liberation Sans", sans-serif' font-size="6.8" font-weight="bold" text-anchor="middle" fill="#000"  stroke="#000" stroke-width="0.05">0</text>
<line x1="291.05" y1="316.90" x2="291.05" y2="319.40" stroke="#000" stroke-width="1.2" />
<text x="291.05" y="328.40" font-family='"Liberation Sans", sans-serif' font-size="6.8" font-weight="bold" text-anchor="middle" fill="#000"  stroke="#000" stroke-width="0.05">50</text>
<line x1="333.00" y1="316.90" x2="333.00" y2="319.40" stroke="#000" stroke-width="1.2" />
<text x="333.00" y="328.40" font-family='"Liberation Sans", sans-serif' font-size="6.8" font-weight="bold" text-anchor="middle" fill="#000"  stroke="#000" stroke-width="0.05">100</text>
<line x1="374.95" y1="316.90" x2="374.95" y2="319.40" stroke="#000" stroke-width="1.2" />
<text x="374.95" y="328.40" font-family='"Liberation Sans", sans-serif' font-size="6.8" font-weight="bold" text-anchor="middle" fill="#000"  stroke="#000" stroke-width="0.05">150</text>
<line x1="249.10" y1="188.30" x2="408.40" y2="188.30" stroke="#000" stroke-width="1.3" />
<line x1="408.40" y1="188.30" x2="408.40" y2="316.90" stroke="#000" stroke-width="1.3" />
<line x1="249.10" y1="187.70" x2="249.10" y2="317.80" stroke="#000" stroke-width="1.8" />
<line x1="248.20" y1="316.90" x2="409.00" y2="316.90" stroke="#000" stroke-width="1.8" />
<text transform="translate(297.50 339.80) scale(1.114 1)" font-family='"Liberation Sans", sans-serif' font-size="8.69" font-weight="bold" fill="#000">Time (min)</text>
<line x1="279.40" y1="232.00" x2="279.40" y2="316.00" stroke="#ff0000" stroke-width="1.2" stroke-dasharray="4.5 4.5"/>
<line x1="311.40" y1="232.00" x2="311.40" y2="316.00" stroke="#ff0000" stroke-width="1.2" stroke-dasharray="4.5 4.5"/>
<line x1="343.50" y1="232.00" x2="343.50" y2="316.00" stroke="#ff0000" stroke-width="1.2" stroke-dasharray="4.5 4.5"/>
<line x1="375.30" y1="232.00" x2="375.30" y2="316.00" stroke="#ff0000" stroke-width="1.2" stroke-dasharray="4.5 4.5"/>
<text transform="translate(270.96 227.80) scale(1.106 1)" font-family='"Liberation Serif", serif' font-size="7.60" font-weight="bold" fill="#000" stroke="#000" stroke-width="0.15">5 μM</text>
<text transform="translate(303.14 228.10) scale(1.092 1)" font-family='"Liberation Serif", serif' font-size="7.60" font-weight="bold" fill="#000" stroke="#000" stroke-width="0.15">10 μM</text>
<text transform="translate(334.92 228.10) scale(1.117 1)" font-family='"Liberation Serif", serif' font-size="7.60" font-weight="bold" fill="#000" stroke="#000" stroke-width="0.15">15 μM</text>
<text transform="translate(367.07 228.80) scale(1.096 1)" font-family='"Liberation Serif", serif' font-size="7.60" font-weight="bold" fill="#000" stroke="#000" stroke-width="0.15">20 μM</text>
<polyline points="250.20,272.40 256.40,274.20 263.00,276.70 269.20,275.50 275.60,274.20 282.00,273.90 288.40,271.10 294.90,270.50 301.50,273.90 307.90,273.40 314.50,273.00 320.70,267.70 327.00,270.30 333.40,272.40 339.90,267.40 346.70,273.90 352.90,270.90 359.50,271.80 365.70,267.40 371.90,268.00 378.40,268.90 384.80,267.40 391.40,267.20 398.00,269.60 404.40,269.30" fill="none" stroke="#000" stroke-width="1.3" stroke-linejoin="round"/>
<polyline points="250.20,275.80 256.40,276.30 263.00,279.60 269.20,279.20 275.60,278.30 282.00,279.80 288.40,277.10 294.90,278.00 301.50,280.10 307.90,278.30 314.50,278.00 320.70,275.50 327.00,271.00 333.40,276.70 339.90,273.90 346.70,271.10 352.90,270.90 359.50,272.40 365.70,271.10 371.90,270.50 378.40,267.40 384.80,268.00 391.40,267.20 398.00,263.90 404.40,264.90" fill="none" stroke="#0000ff" stroke-width="1.3" stroke-linejoin="round"/>
<circle cx="250.20" cy="272.40" r="1.9" fill="#333" stroke="#000" stroke-width="1.0"/>
<circle cx="256.40" cy="274.20" r="1.9" fill="#333" stroke="#000" stroke-width="1.0"/>
<circle cx="263.00" cy="276.70" r="1.9" fill="#333" stroke="#000" stroke-width="1.0"/>
<circle cx="269.20" cy="275.50" r="1.9" fill="#333" stroke="#000" stroke-width="1.0"/>
<circle cx="275.60" cy="274.20" r="1.9" fill="#333" stroke="#000" stroke-width="1.0"/>
<circle cx="282.00" cy="273.90" r="1.9" fill="#333" stroke="#000" stroke-width="1.0"/>
<circle cx="288.40" cy="271.10" r="1.9" fill="#333" stroke="#000" stroke-width="1.0"/>
<circle cx="294.90" cy="270.50" r="1.9" fill="#333" stroke="#000" stroke-width="1.0"/>
<circle cx="301.50" cy="273.90" r="1.9" fill="#333" stroke="#000" stroke-width="1.0"/>
<circle cx="307.90" cy="273.40" r="1.9" fill="#333" stroke="#000" stroke-width="1.0"/>
<circle cx="314.50" cy="273.00" r="1.9" fill="#333" stroke="#000" stroke-width="1.0"/>
<circle cx="320.70" cy="267.70" r="1.9" fill="#333" stroke="#000" stroke-width="1.0"/>
<circle cx="327.00" cy="270.30" r="1.9" fill="#333" stroke="#000" stroke-width="1.0"/>
<circle cx="333.40" cy="272.40" r="1.9" fill="#333" stroke="#000" stroke-width="1.0"/>
<circle cx="339.90" cy="267.40" r="1.9" fill="#333" stroke="#000" stroke-width="1.0"/>
<circle cx="346.70" cy="273.90" r="1.9" fill="#333" stroke="#000" stroke-width="1.0"/>
<circle cx="352.90" cy="270.90" r="1.9" fill="#333" stroke="#000" stroke-width="1.0"/>
<circle cx="359.50" cy="271.80" r="1.9" fill="#333" stroke="#000" stroke-width="1.0"/>
<circle cx="365.70" cy="267.40" r="1.9" fill="#333" stroke="#000" stroke-width="1.0"/>
<circle cx="371.90" cy="268.00" r="1.9" fill="#333" stroke="#000" stroke-width="1.0"/>
<circle cx="378.40" cy="268.90" r="1.9" fill="#333" stroke="#000" stroke-width="1.0"/>
<circle cx="384.80" cy="267.40" r="1.9" fill="#333" stroke="#000" stroke-width="1.0"/>
<circle cx="391.40" cy="267.20" r="1.9" fill="#333" stroke="#000" stroke-width="1.0"/>
<circle cx="398.00" cy="269.60" r="1.9" fill="#333" stroke="#000" stroke-width="1.0"/>
<circle cx="404.40" cy="269.30" r="1.9" fill="#333" stroke="#000" stroke-width="1.0"/>
<circle cx="250.20" cy="275.80" r="2.0" fill="#0000ff" stroke="#3030ff" stroke-width="0.3"/>
<circle cx="256.40" cy="276.30" r="2.0" fill="#0000ff" stroke="#3030ff" stroke-width="0.3"/>
<circle cx="263.00" cy="279.60" r="2.0" fill="#0000ff" stroke="#3030ff" stroke-width="0.3"/>
<circle cx="269.20" cy="279.20" r="2.0" fill="#0000ff" stroke="#3030ff" stroke-width="0.3"/>
<circle cx="275.60" cy="278.30" r="2.0" fill="#0000ff" stroke="#3030ff" stroke-width="0.3"/>
<circle cx="282.00" cy="279.80" r="2.0" fill="#0000ff" stroke="#3030ff" stroke-width="0.3"/>
<circle cx="288.40" cy="277.10" r="2.0" fill="#0000ff" stroke="#3030ff" stroke-width="0.3"/>
<circle cx="294.90" cy="278.00" r="2.0" fill="#0000ff" stroke="#3030ff" stroke-width="0.3"/>
<circle cx="301.50" cy="280.10" r="2.0" fill="#0000ff" stroke="#3030ff" stroke-width="0.3"/>
<circle cx="307.90" cy="278.30" r="2.0" fill="#0000ff" stroke="#3030ff" stroke-width="0.3"/>
<circle cx="314.50" cy="278.00" r="2.0" fill="#0000ff" stroke="#3030ff" stroke-width="0.3"/>
<circle cx="320.70" cy="275.50" r="2.0" fill="#0000ff" stroke="#3030ff" stroke-width="0.3"/>
<circle cx="327.00" cy="271.00" r="2.0" fill="#0000ff" stroke="#3030ff" stroke-width="0.3"/>
<circle cx="333.40" cy="276.70" r="2.0" fill="#0000ff" stroke="#3030ff" stroke-width="0.3"/>
<circle cx="339.90" cy="273.90" r="2.0" fill="#0000ff" stroke="#3030ff" stroke-width="0.3"/>
<circle cx="346.70" cy="271.10" r="2.0" fill="#0000ff" stroke="#3030ff" stroke-width="0.3"/>
<circle cx="352.90" cy="270.90" r="2.0" fill="#0000ff" stroke="#3030ff" stroke-width="0.3"/>
<circle cx="359.50" cy="272.40" r="2.0" fill="#0000ff" stroke="#3030ff" stroke-width="0.3"/>
<circle cx="365.70" cy="271.10" r="2.0" fill="#0000ff" stroke="#3030ff" stroke-width="0.3"/>
<circle cx="371.90" cy="270.50" r="2.0" fill="#0000ff" stroke="#3030ff" stroke-width="0.3"/>
<circle cx="378.40" cy="267.40" r="2.0" fill="#0000ff" stroke="#3030ff" stroke-width="0.3"/>
<circle cx="384.80" cy="268.00" r="2.0" fill="#0000ff" stroke="#3030ff" stroke-width="0.3"/>
<circle cx="391.40" cy="267.20" r="2.0" fill="#0000ff" stroke="#3030ff" stroke-width="0.3"/>
<circle cx="398.00" cy="263.90" r="2.0" fill="#0000ff" stroke="#3030ff" stroke-width="0.3"/>
<circle cx="404.40" cy="264.90" r="2.0" fill="#0000ff" stroke="#3030ff" stroke-width="0.3"/>
<rect x="257.10" y="192.10" width="58.30" height="16.40" fill="#000" stroke="none" stroke-width="0"/>
<rect x="255.60" y="190.60" width="58.30" height="16.40" fill="#fff" stroke="#c8c8c8" stroke-width="0.6"/>
<line x1="256.40" y1="195.30" x2="269.90" y2="195.30" stroke="#000" stroke-width="0.9" />
<circle cx="263.15" cy="195.30" r="1.8" fill="#555" stroke="#000" stroke-width="0.9"/>
<text x="272.00" y="197.60" font-family='"Liberation Serif", serif' font-size="6.9" font-weight="bold" text-anchor="start" fill="#000"  stroke="#000" stroke-width="0.1">MDA-MB-231</text>
<line x1="256.40" y1="203.60" x2="269.90" y2="203.60" stroke="#0000ff" stroke-width="0.9" />
<circle cx="263.15" cy="203.60" r="2.1" fill="#0000ff" stroke="none" stroke-width="0"/>
<text x="272.00" y="205.90" font-family='"Liberation Serif", serif' font-size="6.9" font-weight="bold" text-anchor="start" fill="#000"  stroke="#000" stroke-width="0.1">IA, μM</text>
<text transform="translate(7.20 359.25) scale(0.775 1)" font-family='"Liberation Sans", sans-serif' font-size="14.93" font-weight="bold" fill="#000" stroke="#000" stroke-width="0.3">F</text>
<line x1="49.80" y1="474.50" x2="52.30" y2="474.50" stroke="#000" stroke-width="1.2" />
<text transform="translate(45.30 476.90) scale(1.05 1)" font-family='"Liberation Sans", sans-serif' font-size="6.8" font-weight="bold" text-anchor="end" fill="#000"  stroke="#000" stroke-width="0.05">0</text>
<line x1="49.80" y1="453.74" x2="52.30" y2="453.74" stroke="#000" stroke-width="1.2" />
<text transform="translate(45.30 456.14) scale(1.05 1)" font-family='"Liberation Sans", sans-serif' font-size="6.8" font-weight="bold" text-anchor="end" fill="#000"  stroke="#000" stroke-width="0.05">2</text>
<line x1="49.80" y1="432.98" x2="52.30" y2="432.98" stroke="#000" stroke-width="1.2" />
<text transform="translate(45.30 435.38) scale(1.05 1)" font-family='"Liberation Sans", sans-serif' font-size="6.8" font-weight="bold" text-anchor="end" fill="#000"  stroke="#000" stroke-width="0.05">4</text>
<line x1="49.80" y1="412.22" x2="52.30" y2="412.22" stroke="#000" stroke-width="1.2" />
<text transform="translate(45.30 414.62) scale(1.05 1)" font-family='"Liberation Sans", sans-serif' font-size="6.8" font-weight="bold" text-anchor="end" fill="#000"  stroke="#000" stroke-width="0.05">6</text>
<line x1="49.80" y1="391.46" x2="52.30" y2="391.46" stroke="#000" stroke-width="1.2" />
<text transform="translate(45.30 393.86) scale(1.05 1)" font-family='"Liberation Sans", sans-serif' font-size="6.8" font-weight="bold" text-anchor="end" fill="#000"  stroke="#000" stroke-width="0.05">8</text>
<line x1="49.80" y1="370.70" x2="52.30" y2="370.70" stroke="#000" stroke-width="1.2" />
<text transform="translate(45.30 373.10) scale(1.05 1)" font-family='"Liberation Sans", sans-serif' font-size="6.8" font-weight="bold" text-anchor="end" fill="#000"  stroke="#000" stroke-width="0.05">10</text>
<line x1="49.80" y1="349.94" x2="52.30" y2="349.94" stroke="#000" stroke-width="1.2" />
<text transform="translate(45.30 352.34) scale(1.05 1)" font-family='"Liberation Sans", sans-serif' font-size="6.8" font-weight="bold" text-anchor="end" fill="#000"  stroke="#000" stroke-width="0.05">12</text>
<line x1="52.00" y1="474.50" x2="52.00" y2="477.00" stroke="#000" stroke-width="1.2" />
<line x1="52.00" y1="350.40" x2="52.00" y2="347.90" stroke="#000" stroke-width="1.2" />
<text x="52.00" y="488.00" font-family='"Liberation Sans", sans-serif' font-size="6.8" font-weight="bold" text-anchor="middle" fill="#000"  stroke="#000" stroke-width="0.05">0</text>
<line x1="84.76" y1="474.50" x2="84.76" y2="477.00" stroke="#000" stroke-width="1.2" />
<line x1="84.76" y1="350.40" x2="84.76" y2="347.90" stroke="#000" stroke-width="1.2" />
<text x="84.76" y="488.00" font-family='"Liberation Sans", sans-serif' font-size="6.8" font-weight="bold" text-anchor="middle" fill="#000"  stroke="#000" stroke-width="0.05">40</text>
<line x1="117.52" y1="474.50" x2="117.52" y2="477.00" stroke="#000" stroke-width="1.2" />
<line x1="117.52" y1="350.40" x2="117.52" y2="347.90" stroke="#000" stroke-width="1.2" />
<text x="117.52" y="488.00" font-family='"Liberation Sans", sans-serif' font-size="6.8" font-weight="bold" text-anchor="middle" fill="#000"  stroke="#000" stroke-width="0.05">80</text>
<line x1="150.28" y1="474.50" x2="150.28" y2="477.00" stroke="#000" stroke-width="1.2" />
<line x1="150.28" y1="350.40" x2="150.28" y2="347.90" stroke="#000" stroke-width="1.2" />
<text x="150.28" y="488.00" font-family='"Liberation Sans", sans-serif' font-size="6.8" font-weight="bold" text-anchor="middle" fill="#000"  stroke="#000" stroke-width="0.05">120</text>
<line x1="183.04" y1="474.50" x2="183.04" y2="477.00" stroke="#000" stroke-width="1.2" />
<line x1="183.04" y1="350.40" x2="183.04" y2="347.90" stroke="#000" stroke-width="1.2" />
<text x="183.04" y="488.00" font-family='"Liberation Sans", sans-serif' font-size="6.8" font-weight="bold" text-anchor="middle" fill="#000"  stroke="#000" stroke-width="0.05">160</text>
<line x1="52.30" y1="350.40" x2="207.60" y2="350.40" stroke="#000" stroke-width="1.8" />
<line x1="207.60" y1="350.40" x2="207.60" y2="474.50" stroke="#000" stroke-width="1.8" />
<line x1="52.30" y1="349.50" x2="52.30" y2="476.70" stroke="#000" stroke-width="1.5" />
<line x1="49.80" y1="474.50" x2="208.50" y2="474.50" stroke="#000" stroke-width="1.8" />
<text x="37.20" y="406.60" font-family='"Liberation Sans", sans-serif' font-size="8.2" font-weight="bold" text-anchor="middle" transform="rotate(-90 37.20 406.60)" stroke-width="0">ECAR, (mpH.min<tspan font-size="5.5" dy="-3">-1</tspan><tspan dy="3">)</tspan></text>
<text transform="translate(98.51 498.30) scale(1.079 1)" font-family='"Liberation Sans", sans-serif' font-size="8.69" font-weight="bold" fill="#000">Time (min)</text>
<line x1="81.40" y1="392.40" x2="81.40" y2="473.00" stroke="#2a2a9a" stroke-width="1.2" stroke-dasharray="4.5 4.5"/>
<line x1="112.50" y1="392.40" x2="112.50" y2="473.00" stroke="#2a2a9a" stroke-width="1.2" stroke-dasharray="4.5 4.5"/>
<line x1="143.60" y1="392.40" x2="143.60" y2="473.00" stroke="#2a2a9a" stroke-width="1.2" stroke-dasharray="4.5 4.5"/>
<line x1="175.40" y1="392.40" x2="175.40" y2="473.00" stroke="#2a2a9a" stroke-width="1.2" stroke-dasharray="4.5 4.5"/>
<text transform="translate(74.07 388.40) scale(1.081 1)" font-family='"Liberation Serif", serif' font-size="7.60" font-weight="bold" fill="#000" stroke="#000" stroke-width="0.15">5 μM</text>
<text transform="translate(105.88 389.30) scale(1.018 1)" font-family='"Liberation Serif", serif' font-size="7.60" font-weight="bold" fill="#000" stroke="#000" stroke-width="0.15">10 μM</text>
<text transform="translate(134.95 389.10) scale(1.068 1)" font-family='"Liberation Serif", serif' font-size="7.60" font-weight="bold" fill="#000" stroke="#000" stroke-width="0.15">15 μM</text>
<text transform="translate(167.08 389.10) scale(1.037 1)" font-family='"Liberation Serif", serif' font-size="7.60" font-weight="bold" fill="#000" stroke="#000" stroke-width="0.15">20 μM</text>
<line x1="53.20" y1="432.40" x2="53.20" y2="437.40" stroke="#aaa" stroke-width="0.6" />
<line x1="52.00" y1="432.40" x2="54.40" y2="432.40" stroke="#aaa" stroke-width="0.6" />
<line x1="52.00" y1="437.40" x2="54.40" y2="437.40" stroke="#aaa" stroke-width="0.6" />
<line x1="59.40" y1="424.90" x2="59.40" y2="429.90" stroke="#aaa" stroke-width="0.6" />
<line x1="58.20" y1="424.90" x2="60.60" y2="424.90" stroke="#aaa" stroke-width="0.6" />
<line x1="58.20" y1="429.90" x2="60.60" y2="429.90" stroke="#aaa" stroke-width="0.6" />
<line x1="65.70" y1="428.90" x2="65.70" y2="433.90" stroke="#aaa" stroke-width="0.6" />
<line x1="64.50" y1="428.90" x2="66.90" y2="428.90" stroke="#aaa" stroke-width="0.6" />
<line x1="64.50" y1="433.90" x2="66.90" y2="433.90" stroke="#aaa" stroke-width="0.6" />
<line x1="72.00" y1="425.20" x2="72.00" y2="430.20" stroke="#aaa" stroke-width="0.6" />
<line x1="70.80" y1="425.20" x2="73.20" y2="425.20" stroke="#aaa" stroke-width="0.6" />
<line x1="70.80" y1="430.20" x2="73.20" y2="430.20" stroke="#aaa" stroke-width="0.6" />
<line x1="78.20" y1="419.30" x2="78.20" y2="424.30" stroke="#aaa" stroke-width="0.6" />
<line x1="77.00" y1="419.30" x2="79.40" y2="419.30" stroke="#aaa" stroke-width="0.6" />
<line x1="77.00" y1="424.30" x2="79.40" y2="424.30" stroke="#aaa" stroke-width="0.6" />
<line x1="84.60" y1="419.70" x2="84.60" y2="424.70" stroke="#aaa" stroke-width="0.6" />
<line x1="83.40" y1="419.70" x2="85.80" y2="419.70" stroke="#aaa" stroke-width="0.6" />
<line x1="83.40" y1="424.70" x2="85.80" y2="424.70" stroke="#aaa" stroke-width="0.6" />
<line x1="90.80" y1="420.90" x2="90.80" y2="425.90" stroke="#aaa" stroke-width="0.6" />
<line x1="89.60" y1="420.90" x2="92.00" y2="420.90" stroke="#aaa" stroke-width="0.6" />
<line x1="89.60" y1="425.90" x2="92.00" y2="425.90" stroke="#aaa" stroke-width="0.6" />
<line x1="97.30" y1="422.40" x2="97.30" y2="427.40" stroke="#aaa" stroke-width="0.6" />
<line x1="96.10" y1="422.40" x2="98.50" y2="422.40" stroke="#aaa" stroke-width="0.6" />
<line x1="96.10" y1="427.40" x2="98.50" y2="427.40" stroke="#aaa" stroke-width="0.6" />
<line x1="103.20" y1="421.80" x2="103.20" y2="426.80" stroke="#aaa" stroke-width="0.6" />
<line x1="102.00" y1="421.80" x2="104.40" y2="421.80" stroke="#aaa" stroke-width="0.6" />
<line x1="102.00" y1="426.80" x2="104.40" y2="426.80" stroke="#aaa" stroke-width="0.6" />
<line x1="109.40" y1="419.00" x2="109.40" y2="424.00" stroke="#aaa" stroke-width="0.6" />
<line x1="108.20" y1="419.00" x2="110.60" y2="419.00" stroke="#aaa" stroke-width="0.6" />
<line x1="108.20" y1="424.00" x2="110.60" y2="424.00" stroke="#aaa" stroke-width="0.6" />
<line x1="115.90" y1="423.00" x2="115.90" y2="428.00" stroke="#aaa" stroke-width="0.6" />
<line x1="114.70" y1="423.00" x2="117.10" y2="423.00" stroke="#aaa" stroke-width="0.6" />
<line x1="114.70" y1="428.00" x2="117.10" y2="428.00" stroke="#aaa" stroke-width="0.6" />
<line x1="122.20" y1="418.70" x2="122.20" y2="423.70" stroke="#aaa" stroke-width="0.6" />
<line x1="121.00" y1="418.70" x2="123.40" y2="418.70" stroke="#aaa" stroke-width="0.6" />
<line x1="121.00" y1="423.70" x2="123.40" y2="423.70" stroke="#aaa" stroke-width="0.6" />
<line x1="128.60" y1="418.80" x2="128.60" y2="423.80" stroke="#aaa" stroke-width="0.6" />
<line x1="127.40" y1="418.80" x2="129.80" y2="418.80" stroke="#aaa" stroke-width="0.6" />
<line x1="127.40" y1="423.80" x2="129.80" y2="423.80" stroke="#aaa" stroke-width="0.6" />
<line x1="134.70" y1="422.10" x2="134.70" y2="427.10" stroke="#aaa" stroke-width="0.6" />
<line x1="133.50" y1="422.10" x2="135.90" y2="422.10" stroke="#aaa" stroke-width="0.6" />
<line x1="133.50" y1="427.10" x2="135.90" y2="427.10" stroke="#aaa" stroke-width="0.6" />
<line x1="140.90" y1="420.20" x2="140.90" y2="425.20" stroke="#aaa" stroke-width="0.6" />
<line x1="139.70" y1="420.20" x2="142.10" y2="420.20" stroke="#aaa" stroke-width="0.6" />
<line x1="139.70" y1="425.20" x2="142.10" y2="425.20" stroke="#aaa" stroke-width="0.6" />
<line x1="147.30" y1="415.90" x2="147.30" y2="420.90" stroke="#aaa" stroke-width="0.6" />
<line x1="146.10" y1="415.90" x2="148.50" y2="415.90" stroke="#aaa" stroke-width="0.6" />
<line x1="146.10" y1="420.90" x2="148.50" y2="420.90" stroke="#aaa" stroke-width="0.6" />
<line x1="153.50" y1="417.20" x2="153.50" y2="422.20" stroke="#aaa" stroke-width="0.6" />
<line x1="152.30" y1="417.20" x2="154.70" y2="417.20" stroke="#aaa" stroke-width="0.6" />
<line x1="152.30" y1="422.20" x2="154.70" y2="422.20" stroke="#aaa" stroke-width="0.6" />
<line x1="159.70" y1="420.20" x2="159.70" y2="425.20" stroke="#aaa" stroke-width="0.6" />
<line x1="158.50" y1="420.20" x2="160.90" y2="420.20" stroke="#aaa" stroke-width="0.6" />
<line x1="158.50" y1="425.20" x2="160.90" y2="425.20" stroke="#aaa" stroke-width="0.6" />
<line x1="166.00" y1="420.50" x2="166.00" y2="425.50" stroke="#aaa" stroke-width="0.6" />
<line x1="164.80" y1="420.50" x2="167.20" y2="420.50" stroke="#aaa" stroke-width="0.6" />
<line x1="164.80" y1="425.50" x2="167.20" y2="425.50" stroke="#aaa" stroke-width="0.6" />
<line x1="172.20" y1="418.40" x2="172.20" y2="423.40" stroke="#aaa" stroke-width="0.6" />
<line x1="171.00" y1="418.40" x2="173.40" y2="418.40" stroke="#aaa" stroke-width="0.6" />
<line x1="171.00" y1="423.40" x2="173.40" y2="423.40" stroke="#aaa" stroke-width="0.6" />
<line x1="178.40" y1="415.20" x2="178.40" y2="420.20" stroke="#aaa" stroke-width="0.6" />
<line x1="177.20" y1="415.20" x2="179.60" y2="415.20" stroke="#aaa" stroke-width="0.6" />
<line x1="177.20" y1="420.20" x2="179.60" y2="420.20" stroke="#aaa" stroke-width="0.6" />
<line x1="184.90" y1="419.90" x2="184.90" y2="424.90" stroke="#aaa" stroke-width="0.6" />
<line x1="183.70" y1="419.90" x2="186.10" y2="419.90" stroke="#aaa" stroke-width="0.6" />
<line x1="183.70" y1="424.90" x2="186.10" y2="424.90" stroke="#aaa" stroke-width="0.6" />
<line x1="191.10" y1="419.30" x2="191.10" y2="424.30" stroke="#aaa" stroke-width="0.6" />
<line x1="189.90" y1="419.30" x2="192.30" y2="419.30" stroke="#aaa" stroke-width="0.6" />
<line x1="189.90" y1="424.30" x2="192.30" y2="424.30" stroke="#aaa" stroke-width="0.6" />
<line x1="197.30" y1="420.90" x2="197.30" y2="425.90" stroke="#aaa" stroke-width="0.6" />
<line x1="196.10" y1="420.90" x2="198.50" y2="420.90" stroke="#aaa" stroke-width="0.6" />
<line x1="196.10" y1="425.90" x2="198.50" y2="425.90" stroke="#aaa" stroke-width="0.6" />
<line x1="203.50" y1="419.90" x2="203.50" y2="424.90" stroke="#aaa" stroke-width="0.6" />
<line x1="202.30" y1="419.90" x2="204.70" y2="419.90" stroke="#aaa" stroke-width="0.6" />
<line x1="202.30" y1="424.90" x2="204.70" y2="424.90" stroke="#aaa" stroke-width="0.6" />
<line x1="53.20" y1="429.90" x2="53.20" y2="434.90" stroke="#f4a0a0" stroke-width="0.6" />
<line x1="52.00" y1="429.90" x2="54.40" y2="429.90" stroke="#f4a0a0" stroke-width="0.6" />
<line x1="52.00" y1="434.90" x2="54.40" y2="434.90" stroke="#f4a0a0" stroke-width="0.6" />
<line x1="59.40" y1="430.10" x2="59.40" y2="435.10" stroke="#f4a0a0" stroke-width="0.6" />
<line x1="58.20" y1="430.10" x2="60.60" y2="430.10" stroke="#f4a0a0" stroke-width="0.6" />
<line x1="58.20" y1="435.10" x2="60.60" y2="435.10" stroke="#f4a0a0" stroke-width="0.6" />
<line x1="65.70" y1="435.50" x2="65.70" y2="440.50" stroke="#f4a0a0" stroke-width="0.6" />
<line x1="64.50" y1="435.50" x2="66.90" y2="435.50" stroke="#f4a0a0" stroke-width="0.6" />
<line x1="64.50" y1="440.50" x2="66.90" y2="440.50" stroke="#f4a0a0" stroke-width="0.6" />
<line x1="72.00" y1="436.10" x2="72.00" y2="441.10" stroke="#f4a0a0" stroke-width="0.6" />
<line x1="70.80" y1="436.10" x2="73.20" y2="436.10" stroke="#f4a0a0" stroke-width="0.6" />
<line x1="70.80" y1="441.10" x2="73.20" y2="441.10" stroke="#f4a0a0" stroke-width="0.6" />
<line x1="78.20" y1="427.40" x2="78.20" y2="432.40" stroke="#f4a0a0" stroke-width="0.6" />
<line x1="77.00" y1="427.40" x2="79.40" y2="427.40" stroke="#f4a0a0" stroke-width="0.6" />
<line x1="77.00" y1="432.40" x2="79.40" y2="432.40" stroke="#f4a0a0" stroke-width="0.6" />
<line x1="84.60" y1="424.30" x2="84.60" y2="429.30" stroke="#f4a0a0" stroke-width="0.6" />
<line x1="83.40" y1="424.30" x2="85.80" y2="424.30" stroke="#f4a0a0" stroke-width="0.6" />
<line x1="83.40" y1="429.30" x2="85.80" y2="429.30" stroke="#f4a0a0" stroke-width="0.6" />
<line x1="90.80" y1="424.30" x2="90.80" y2="429.30" stroke="#f4a0a0" stroke-width="0.6" />
<line x1="89.60" y1="424.30" x2="92.00" y2="424.30" stroke="#f4a0a0" stroke-width="0.6" />
<line x1="89.60" y1="429.30" x2="92.00" y2="429.30" stroke="#f4a0a0" stroke-width="0.6" />
<line x1="97.30" y1="427.10" x2="97.30" y2="432.10" stroke="#f4a0a0" stroke-width="0.6" />
<line x1="96.10" y1="427.10" x2="98.50" y2="427.10" stroke="#f4a0a0" stroke-width="0.6" />
<line x1="96.10" y1="432.10" x2="98.50" y2="432.10" stroke="#f4a0a0" stroke-width="0.6" />
<line x1="103.20" y1="427.80" x2="103.20" y2="432.80" stroke="#f4a0a0" stroke-width="0.6" />
<line x1="102.00" y1="427.80" x2="104.40" y2="427.80" stroke="#f4a0a0" stroke-width="0.6" />
<line x1="102.00" y1="432.80" x2="104.40" y2="432.80" stroke="#f4a0a0" stroke-width="0.6" />
<line x1="109.40" y1="423.00" x2="109.40" y2="428.00" stroke="#f4a0a0" stroke-width="0.6" />
<line x1="108.20" y1="423.00" x2="110.60" y2="423.00" stroke="#f4a0a0" stroke-width="0.6" />
<line x1="108.20" y1="428.00" x2="110.60" y2="428.00" stroke="#f4a0a0" stroke-width="0.6" />
<line x1="115.90" y1="434.60" x2="115.90" y2="439.60" stroke="#f4a0a0" stroke-width="0.6" />
<line x1="114.70" y1="434.60" x2="117.10" y2="434.60" stroke="#f4a0a0" stroke-width="0.6" />
<line x1="114.70" y1="439.60" x2="117.10" y2="439.60" stroke="#f4a0a0" stroke-width="0.6" />
<line x1="122.20" y1="439.20" x2="122.20" y2="444.20" stroke="#f4a0a0" stroke-width="0.6" />
<line x1="121.00" y1="439.20" x2="123.40" y2="439.20" stroke="#f4a0a0" stroke-width="0.6" />
<line x1="121.00" y1="444.20" x2="123.40" y2="444.20" stroke="#f4a0a0" stroke-width="0.6" />
<line x1="128.60" y1="439.40" x2="128.60" y2="444.40" stroke="#f4a0a0" stroke-width="0.6" />
<line x1="127.40" y1="439.40" x2="129.80" y2="439.40" stroke="#f4a0a0" stroke-width="0.6" />
<line x1="127.40" y1="444.40" x2="129.80" y2="444.40" stroke="#f4a0a0" stroke-width="0.6" />
<line x1="134.70" y1="445.70" x2="134.70" y2="450.70" stroke="#f4a0a0" stroke-width="0.6" />
<line x1="133.50" y1="445.70" x2="135.90" y2="445.70" stroke="#f4a0a0" stroke-width="0.6" />
<line x1="133.50" y1="450.70" x2="135.90" y2="450.70" stroke="#f4a0a0" stroke-width="0.6" />
<line x1="140.90" y1="441.60" x2="140.90" y2="446.60" stroke="#f4a0a0" stroke-width="0.6" />
<line x1="139.70" y1="441.60" x2="142.10" y2="441.60" stroke="#f4a0a0" stroke-width="0.6" />
<line x1="139.70" y1="446.60" x2="142.10" y2="446.60" stroke="#f4a0a0" stroke-width="0.6" />
<line x1="147.30" y1="442.50" x2="147.30" y2="447.50" stroke="#f4a0a0" stroke-width="0.6" />
<line x1="146.10" y1="442.50" x2="148.50" y2="442.50" stroke="#f4a0a0" stroke-width="0.6" />
<line x1="146.10" y1="447.50" x2="148.50" y2="447.50" stroke="#f4a0a0" stroke-width="0.6" />
<line x1="153.50" y1="447.00" x2="153.50" y2="452.00" stroke="#f4a0a0" stroke-width="0.6" />
<line x1="152.30" y1="447.00" x2="154.70" y2="447.00" stroke="#f4a0a0" stroke-width="0.6" />
<line x1="152.30" y1="452.00" x2="154.70" y2="452.00" stroke="#f4a0a0" stroke-width="0.6" />
<line x1="159.70" y1="450.70" x2="159.70" y2="455.70" stroke="#f4a0a0" stroke-width="0.6" />
<line x1="158.50" y1="450.70" x2="160.90" y2="450.70" stroke="#f4a0a0" stroke-width="0.6" />
<line x1="158.50" y1="455.70" x2="160.90" y2="455.70" stroke="#f4a0a0" stroke-width="0.6" />
<line x1="166.00" y1="449.40" x2="166.00" y2="454.40" stroke="#f4a0a0" stroke-width="0.6" />
<line x1="164.80" y1="449.40" x2="167.20" y2="449.40" stroke="#f4a0a0" stroke-width="0.6" />
<line x1="164.80" y1="454.40" x2="167.20" y2="454.40" stroke="#f4a0a0" stroke-width="0.6" />
<line x1="172.20" y1="439.50" x2="172.20" y2="444.50" stroke="#f4a0a0" stroke-width="0.6" />
<line x1="171.00" y1="439.50" x2="173.40" y2="439.50" stroke="#f4a0a0" stroke-width="0.6" />
<line x1="171.00" y1="444.50" x2="173.40" y2="444.50" stroke="#f4a0a0" stroke-width="0.6" />
<line x1="178.40" y1="445.30" x2="178.40" y2="450.30" stroke="#f4a0a0" stroke-width="0.6" />
<line x1="177.20" y1="445.30" x2="179.60" y2="445.30" stroke="#f4a0a0" stroke-width="0.6" />
<line x1="177.20" y1="450.30" x2="179.60" y2="450.30" stroke="#f4a0a0" stroke-width="0.6" />
<line x1="184.90" y1="453.20" x2="184.90" y2="458.20" stroke="#f4a0a0" stroke-width="0.6" />
<line x1="183.70" y1="453.20" x2="186.10" y2="453.20" stroke="#f4a0a0" stroke-width="0.6" />
<line x1="183.70" y1="458.20" x2="186.10" y2="458.20" stroke="#f4a0a0" stroke-width="0.6" />
<line x1="191.10" y1="450.70" x2="191.10" y2="455.70" stroke="#f4a0a0" stroke-width="0.6" />
<line x1="189.90" y1="450.70" x2="192.30" y2="450.70" stroke="#f4a0a0" stroke-width="0.6" />
<line x1="189.90" y1="455.70" x2="192.30" y2="455.70" stroke="#f4a0a0" stroke-width="0.6" />
<line x1="197.30" y1="450.90" x2="197.30" y2="455.90" stroke="#f4a0a0" stroke-width="0.6" />
<line x1="196.10" y1="450.90" x2="198.50" y2="450.90" stroke="#f4a0a0" stroke-width="0.6" />
<line x1="196.10" y1="455.90" x2="198.50" y2="455.90" stroke="#f4a0a0" stroke-width="0.6" />
<line x1="203.50" y1="453.70" x2="203.50" y2="458.70" stroke="#f4a0a0" stroke-width="0.6" />
<line x1="202.30" y1="453.70" x2="204.70" y2="453.70" stroke="#f4a0a0" stroke-width="0.6" />
<line x1="202.30" y1="458.70" x2="204.70" y2="458.70" stroke="#f4a0a0" stroke-width="0.6" />
<polyline points="53.20,434.90 59.40,427.40 65.70,431.40 72.00,427.70 78.20,421.80 84.60,422.20 90.80,423.40 97.30,424.90 103.20,424.30 109.40,421.50 115.90,425.50 122.20,421.20 128.60,421.30 134.70,424.60 140.90,422.70 147.30,418.40 153.50,419.70 159.70,422.70 166.00,423.00 172.20,420.90 178.40,417.70 184.90,422.40 191.10,421.80 197.30,423.40 203.50,422.40" fill="none" stroke="#000" stroke-width="1.0" stroke-linejoin="round"/>
<polyline points="53.20,432.40 59.40,432.60 65.70,438.00 72.00,438.60 78.20,429.90 84.60,426.80 90.80,426.80 97.30,429.60 103.20,430.30 109.40,425.50 115.90,437.10 122.20,441.70 128.60,441.90 134.70,448.20 140.90,444.10 147.30,445.00 153.50,449.50 159.70,453.20 166.00,451.90 172.20,442.00 178.40,447.80 184.90,455.70 191.10,453.20 197.30,453.40 203.50,456.20" fill="none" stroke="#ff0000" stroke-width="1.1" stroke-linejoin="round"/>
<circle cx="53.20" cy="434.90" r="1.9" fill="#555" stroke="#000" stroke-width="1.0"/>
<circle cx="59.40" cy="427.40" r="1.9" fill="#555" stroke="#000" stroke-width="1.0"/>
<circle cx="65.70" cy="431.40" r="1.9" fill="#555" stroke="#000" stroke-width="1.0"/>
<circle cx="72.00" cy="427.70" r="1.9" fill="#555" stroke="#000" stroke-width="1.0"/>
<circle cx="78.20" cy="421.80" r="1.9" fill="#555" stroke="#000" stroke-width="1.0"/>
<circle cx="84.60" cy="422.20" r="1.9" fill="#555" stroke="#000" stroke-width="1.0"/>
<circle cx="90.80" cy="423.40" r="1.9" fill="#555" stroke="#000" stroke-width="1.0"/>
<circle cx="97.30" cy="424.90" r="1.9" fill="#555" stroke="#000" stroke-width="1.0"/>
<circle cx="103.20" cy="424.30" r="1.9" fill="#555" stroke="#000" stroke-width="1.0"/>
<circle cx="109.40" cy="421.50" r="1.9" fill="#555" stroke="#000" stroke-width="1.0"/>
<circle cx="115.90" cy="425.50" r="1.9" fill="#555" stroke="#000" stroke-width="1.0"/>
<circle cx="122.20" cy="421.20" r="1.9" fill="#555" stroke="#000" stroke-width="1.0"/>
<circle cx="128.60" cy="421.30" r="1.9" fill="#555" stroke="#000" stroke-width="1.0"/>
<circle cx="134.70" cy="424.60" r="1.9" fill="#555" stroke="#000" stroke-width="1.0"/>
<circle cx="140.90" cy="422.70" r="1.9" fill="#555" stroke="#000" stroke-width="1.0"/>
<circle cx="147.30" cy="418.40" r="1.9" fill="#555" stroke="#000" stroke-width="1.0"/>
<circle cx="153.50" cy="419.70" r="1.9" fill="#555" stroke="#000" stroke-width="1.0"/>
<circle cx="159.70" cy="422.70" r="1.9" fill="#555" stroke="#000" stroke-width="1.0"/>
<circle cx="166.00" cy="423.00" r="1.9" fill="#555" stroke="#000" stroke-width="1.0"/>
<circle cx="172.20" cy="420.90" r="1.9" fill="#555" stroke="#000" stroke-width="1.0"/>
<circle cx="178.40" cy="417.70" r="1.9" fill="#555" stroke="#000" stroke-width="1.0"/>
<circle cx="184.90" cy="422.40" r="1.9" fill="#555" stroke="#000" stroke-width="1.0"/>
<circle cx="191.10" cy="421.80" r="1.9" fill="#555" stroke="#000" stroke-width="1.0"/>
<circle cx="197.30" cy="423.40" r="1.9" fill="#555" stroke="#000" stroke-width="1.0"/>
<circle cx="203.50" cy="422.40" r="1.9" fill="#555" stroke="#000" stroke-width="1.0"/>
<circle cx="53.20" cy="432.40" r="1.9" fill="#ff7070" stroke="#ff0000" stroke-width="1.0"/>
<circle cx="59.40" cy="432.60" r="1.9" fill="#ff7070" stroke="#ff0000" stroke-width="1.0"/>
<circle cx="65.70" cy="438.00" r="1.9" fill="#ff7070" stroke="#ff0000" stroke-width="1.0"/>
<circle cx="72.00" cy="438.60" r="1.9" fill="#ff7070" stroke="#ff0000" stroke-width="1.0"/>
<circle cx="78.20" cy="429.90" r="1.9" fill="#ff7070" stroke="#ff0000" stroke-width="1.0"/>
<circle cx="84.60" cy="426.80" r="1.9" fill="#ff7070" stroke="#ff0000" stroke-width="1.0"/>
<circle cx="90.80" cy="426.80" r="1.9" fill="#ff7070" stroke="#ff0000" stroke-width="1.0"/>
<circle cx="97.30" cy="429.60" r="1.9" fill="#ff7070" stroke="#ff0000" stroke-width="1.0"/>
<circle cx="103.20" cy="430.30" r="1.9" fill="#ff7070" stroke="#ff0000" stroke-width="1.0"/>
<circle cx="109.40" cy="425.50" r="1.9" fill="#ff7070" stroke="#ff0000" stroke-width="1.0"/>
<circle cx="115.90" cy="437.10" r="1.9" fill="#ff7070" stroke="#ff0000" stroke-width="1.0"/>
<circle cx="122.20" cy="441.70" r="1.9" fill="#ff7070" stroke="#ff0000" stroke-width="1.0"/>
<circle cx="128.60" cy="441.90" r="1.9" fill="#ff7070" stroke="#ff0000" stroke-width="1.0"/>
<circle cx="134.70" cy="448.20" r="1.9" fill="#ff7070" stroke="#ff0000" stroke-width="1.0"/>
<circle cx="140.90" cy="444.10" r="1.9" fill="#ff7070" stroke="#ff0000" stroke-width="1.0"/>
<circle cx="147.30" cy="445.00" r="1.9" fill="#ff7070" stroke="#ff0000" stroke-width="1.0"/>
<circle cx="153.50" cy="449.50" r="1.9" fill="#ff7070" stroke="#ff0000" stroke-width="1.0"/>
<circle cx="159.70" cy="453.20" r="1.9" fill="#ff7070" stroke="#ff0000" stroke-width="1.0"/>
<circle cx="166.00" cy="451.90" r="1.9" fill="#ff7070" stroke="#ff0000" stroke-width="1.0"/>
<circle cx="172.20" cy="442.00" r="1.9" fill="#ff7070" stroke="#ff0000" stroke-width="1.0"/>
<circle cx="178.40" cy="447.80" r="1.9" fill="#ff7070" stroke="#ff0000" stroke-width="1.0"/>
<circle cx="184.90" cy="455.70" r="1.9" fill="#ff7070" stroke="#ff0000" stroke-width="1.0"/>
<circle cx="191.10" cy="453.20" r="1.9" fill="#ff7070" stroke="#ff0000" stroke-width="1.0"/>
<circle cx="197.30" cy="453.40" r="1.9" fill="#ff7070" stroke="#ff0000" stroke-width="1.0"/>
<circle cx="203.50" cy="456.20" r="1.9" fill="#ff7070" stroke="#ff0000" stroke-width="1.0"/>
<rect x="58.10" y="354.50" width="39.00" height="15.30" fill="#000" stroke="none" stroke-width="0"/>
<rect x="56.80" y="353.20" width="39.00" height="15.30" fill="#fff" stroke="#c8c8c8" stroke-width="0.6"/>
<line x1="57.60" y1="357.20" x2="71.50" y2="357.20" stroke="#000" stroke-width="0.9" />
<circle cx="64.55" cy="357.20" r="1.8" fill="#555" stroke="#000" stroke-width="0.9"/>
<text x="72.90" y="359.50" font-family='"Liberation Serif", serif' font-size="6.6" font-weight="bold" text-anchor="start" fill="#000"  stroke="#000" stroke-width="0.1">MCF7</text>
<line x1="57.60" y1="365.00" x2="71.50" y2="365.00" stroke="#ff0000" stroke-width="0.9" />
<circle cx="64.55" cy="365.00" r="1.8" fill="#ff9090" stroke="#ff0000" stroke-width="0.9"/>
<text x="72.90" y="367.30" font-family='"Liberation Serif", serif' font-size="6.6" font-weight="bold" text-anchor="start" fill="#000"  stroke="#000" stroke-width="0.1">IA, μM</text>
<text transform="translate(218.56 359.30) scale(0.964 1)" font-family='"Liberation Sans", sans-serif' font-size="15.21" font-weight="bold" fill="#000" stroke="#000" stroke-width="0.3">G</text>
<line x1="246.20" y1="465.50" x2="249.20" y2="465.50" stroke="#000" stroke-width="1.2" />
<text transform="translate(241.90 467.90) scale(1.05 1)" font-family='"Liberation Sans", sans-serif' font-size="6.8" font-weight="bold" text-anchor="end" fill="#000"  stroke="#000" stroke-width="0.05">0</text>
<line x1="246.20" y1="446.60" x2="249.20" y2="446.60" stroke="#000" stroke-width="1.2" />
<text transform="translate(241.90 449.00) scale(1.05 1)" font-family='"Liberation Sans", sans-serif' font-size="6.8" font-weight="bold" text-anchor="end" fill="#000"  stroke="#000" stroke-width="0.05">2</text>
<line x1="246.20" y1="427.70" x2="249.20" y2="427.70" stroke="#000" stroke-width="1.2" />
<text transform="translate(241.90 430.10) scale(1.05 1)" font-family='"Liberation Sans", sans-serif' font-size="6.8" font-weight="bold" text-anchor="end" fill="#000"  stroke="#000" stroke-width="0.05">4</text>
<line x1="246.20" y1="408.80" x2="249.20" y2="408.80" stroke="#000" stroke-width="1.2" />
<text transform="translate(241.90 411.20) scale(1.05 1)" font-family='"Liberation Sans", sans-serif' font-size="6.8" font-weight="bold" text-anchor="end" fill="#000"  stroke="#000" stroke-width="0.05">6</text>
<line x1="246.20" y1="389.90" x2="249.20" y2="389.90" stroke="#000" stroke-width="1.2" />
<text transform="translate(241.90 392.30) scale(1.05 1)" font-family='"Liberation Sans", sans-serif' font-size="6.8" font-weight="bold" text-anchor="end" fill="#000"  stroke="#000" stroke-width="0.05">8</text>
<line x1="246.20" y1="371.00" x2="249.20" y2="371.00" stroke="#000" stroke-width="1.2" />
<text transform="translate(241.90 373.40) scale(1.05 1)" font-family='"Liberation Sans", sans-serif' font-size="6.8" font-weight="bold" text-anchor="end" fill="#000"  stroke="#000" stroke-width="0.05">10</text>
<line x1="246.20" y1="352.10" x2="249.20" y2="352.10" stroke="#000" stroke-width="1.2" />
<text transform="translate(241.90 354.50) scale(1.05 1)" font-family='"Liberation Sans", sans-serif' font-size="6.8" font-weight="bold" text-anchor="end" fill="#000"  stroke="#000" stroke-width="0.05">12</text>
<line x1="249.20" y1="474.60" x2="249.20" y2="477.10" stroke="#000" stroke-width="1.2" />
<line x1="249.20" y1="351.30" x2="249.20" y2="348.80" stroke="#000" stroke-width="1.2" />
<text x="249.20" y="488.40" font-family='"Liberation Sans", sans-serif' font-size="6.8" font-weight="bold" text-anchor="middle" fill="#000"  stroke="#000" stroke-width="0.05">0</text>
<line x1="282.70" y1="474.60" x2="282.70" y2="477.10" stroke="#000" stroke-width="1.2" />
<line x1="282.70" y1="351.30" x2="282.70" y2="348.80" stroke="#000" stroke-width="1.2" />
<text x="282.70" y="488.40" font-family='"Liberation Sans", sans-serif' font-size="6.8" font-weight="bold" text-anchor="middle" fill="#000"  stroke="#000" stroke-width="0.05">40</text>
<line x1="316.20" y1="474.60" x2="316.20" y2="477.10" stroke="#000" stroke-width="1.2" />
<line x1="316.20" y1="351.30" x2="316.20" y2="348.80" stroke="#000" stroke-width="1.2" />
<text x="316.20" y="488.40" font-family='"Liberation Sans", sans-serif' font-size="6.8" font-weight="bold" text-anchor="middle" fill="#000"  stroke="#000" stroke-width="0.05">80</text>
<line x1="349.70" y1="474.60" x2="349.70" y2="477.10" stroke="#000" stroke-width="1.2" />
<line x1="349.70" y1="351.30" x2="349.70" y2="348.80" stroke="#000" stroke-width="1.2" />
<text x="349.70" y="488.40" font-family='"Liberation Sans", sans-serif' font-size="6.8" font-weight="bold" text-anchor="middle" fill="#000"  stroke="#000" stroke-width="0.05">120</text>
<line x1="383.20" y1="474.60" x2="383.20" y2="477.10" stroke="#000" stroke-width="1.2" />
<line x1="383.20" y1="351.30" x2="383.20" y2="348.80" stroke="#000" stroke-width="1.2" />
<text x="383.20" y="488.40" font-family='"Liberation Sans", sans-serif' font-size="6.8" font-weight="bold" text-anchor="middle" fill="#000"  stroke="#000" stroke-width="0.05">160</text>
<line x1="249.20" y1="351.30" x2="408.30" y2="351.30" stroke="#000" stroke-width="1.8" />
<line x1="408.30" y1="351.30" x2="408.30" y2="474.60" stroke="#000" stroke-width="1.8" />
<line x1="249.20" y1="350.40" x2="249.20" y2="475.50" stroke="#000" stroke-width="1.8" />
<line x1="248.30" y1="474.60" x2="409.20" y2="474.60" stroke="#000" stroke-width="1.8" />
<text transform="translate(303.50 499.30) scale(1.218 1)" font-family='"Liberation Sans", sans-serif' font-size="7.86" font-weight="bold" fill="#000">Time (min)</text>
<line x1="273.00" y1="392.80" x2="273.00" y2="474.00" stroke="#2a2a9a" stroke-width="1.2" stroke-dasharray="4.5 4.5"/>
<line x1="305.80" y1="392.80" x2="305.80" y2="474.00" stroke="#2a2a9a" stroke-width="1.2" stroke-dasharray="4.5 4.5"/>
<line x1="337.50" y1="392.80" x2="337.50" y2="474.00" stroke="#2a2a9a" stroke-width="1.2" stroke-dasharray="4.5 4.5"/>
<line x1="370.00" y1="392.80" x2="370.00" y2="474.00" stroke="#2a2a9a" stroke-width="1.2" stroke-dasharray="4.5 4.5"/>
<text transform="translate(264.96 389.30) scale(1.112 1)" font-family='"Liberation Serif", serif' font-size="7.60" font-weight="bold" fill="#000" stroke="#000" stroke-width="0.15">5 μM</text>
<text transform="translate(297.75 390.30) scale(1.063 1)" font-family='"Liberation Serif", serif' font-size="7.60" font-weight="bold" fill="#000" stroke="#000" stroke-width="0.15">10 μM</text>
<text transform="translate(326.53 389.80) scale(1.107 1)" font-family='"Liberation Serif", serif' font-size="7.60" font-weight="bold" fill="#000" stroke="#000" stroke-width="0.15">15 μM</text>
<text transform="translate(362.28 390.80) scale(1.052 1)" font-family='"Liberation Serif", serif' font-size="7.60" font-weight="bold" fill="#000" stroke="#000" stroke-width="0.15">20 μM</text>
<line x1="250.20" y1="403.00" x2="250.20" y2="408.00" stroke="#f4a0a0" stroke-width="0.6" />
<line x1="249.00" y1="403.00" x2="251.40" y2="403.00" stroke="#f4a0a0" stroke-width="0.6" />
<line x1="249.00" y1="408.00" x2="251.40" y2="408.00" stroke="#f4a0a0" stroke-width="0.6" />
<line x1="256.80" y1="397.70" x2="256.80" y2="402.70" stroke="#f4a0a0" stroke-width="0.6" />
<line x1="255.60" y1="397.70" x2="258.00" y2="397.70" stroke="#f4a0a0" stroke-width="0.6" />
<line x1="255.60" y1="402.70" x2="258.00" y2="402.70" stroke="#f4a0a0" stroke-width="0.6" />
<line x1="263.40" y1="399.30" x2="263.40" y2="404.30" stroke="#f4a0a0" stroke-width="0.6" />
<line x1="262.20" y1="399.30" x2="264.60" y2="399.30" stroke="#f4a0a0" stroke-width="0.6" />
<line x1="262.20" y1="404.30" x2="264.60" y2="404.30" stroke="#f4a0a0" stroke-width="0.6" />
<line x1="269.60" y1="408.90" x2="269.60" y2="413.90" stroke="#f4a0a0" stroke-width="0.6" />
<line x1="268.40" y1="408.90" x2="270.80" y2="408.90" stroke="#f4a0a0" stroke-width="0.6" />
<line x1="268.40" y1="413.90" x2="270.80" y2="413.90" stroke="#f4a0a0" stroke-width="0.6" />
<line x1="276.30" y1="410.50" x2="276.30" y2="415.50" stroke="#f4a0a0" stroke-width="0.6" />
<line x1="275.10" y1="410.50" x2="277.50" y2="410.50" stroke="#f4a0a0" stroke-width="0.6" />
<line x1="275.10" y1="415.50" x2="277.50" y2="415.50" stroke="#f4a0a0" stroke-width="0.6" />
<line x1="282.60" y1="418.80" x2="282.60" y2="423.80" stroke="#f4a0a0" stroke-width="0.6" />
<line x1="281.40" y1="418.80" x2="283.80" y2="418.80" stroke="#f4a0a0" stroke-width="0.6" />
<line x1="281.40" y1="423.80" x2="283.80" y2="423.80" stroke="#f4a0a0" stroke-width="0.6" />
<line x1="289.00" y1="415.10" x2="289.00" y2="420.10" stroke="#f4a0a0" stroke-width="0.6" />
<line x1="287.80" y1="415.10" x2="290.20" y2="415.10" stroke="#f4a0a0" stroke-width="0.6" />
<line x1="287.80" y1="420.10" x2="290.20" y2="420.10" stroke="#f4a0a0" stroke-width="0.6" />
<line x1="295.30" y1="419.50" x2="295.30" y2="424.50" stroke="#f4a0a0" stroke-width="0.6" />
<line x1="294.10" y1="419.50" x2="296.50" y2="419.50" stroke="#f4a0a0" stroke-width="0.6" />
<line x1="294.10" y1="424.50" x2="296.50" y2="424.50" stroke="#f4a0a0" stroke-width="0.6" />
<line x1="301.80" y1="413.30" x2="301.80" y2="418.30" stroke="#f4a0a0" stroke-width="0.6" />
<line x1="300.60" y1="413.30" x2="303.00" y2="413.30" stroke="#f4a0a0" stroke-width="0.6" />
<line x1="300.60" y1="418.30" x2="303.00" y2="418.30" stroke="#f4a0a0" stroke-width="0.6" />
<line x1="308.30" y1="417.30" x2="308.30" y2="422.30" stroke="#f4a0a0" stroke-width="0.6" />
<line x1="307.10" y1="417.30" x2="309.50" y2="417.30" stroke="#f4a0a0" stroke-width="0.6" />
<line x1="307.10" y1="422.30" x2="309.50" y2="422.30" stroke="#f4a0a0" stroke-width="0.6" />
<line x1="314.90" y1="429.50" x2="314.90" y2="434.50" stroke="#f4a0a0" stroke-width="0.6" />
<line x1="313.70" y1="429.50" x2="316.10" y2="429.50" stroke="#f4a0a0" stroke-width="0.6" />
<line x1="313.70" y1="434.50" x2="316.10" y2="434.50" stroke="#f4a0a0" stroke-width="0.6" />
<line x1="321.30" y1="431.20" x2="321.30" y2="436.20" stroke="#f4a0a0" stroke-width="0.6" />
<line x1="320.10" y1="431.20" x2="322.50" y2="431.20" stroke="#f4a0a0" stroke-width="0.6" />
<line x1="320.10" y1="436.20" x2="322.50" y2="436.20" stroke="#f4a0a0" stroke-width="0.6" />
<line x1="327.70" y1="435.20" x2="327.70" y2="440.20" stroke="#f4a0a0" stroke-width="0.6" />
<line x1="326.50" y1="435.20" x2="328.90" y2="435.20" stroke="#f4a0a0" stroke-width="0.6" />
<line x1="326.50" y1="440.20" x2="328.90" y2="440.20" stroke="#f4a0a0" stroke-width="0.6" />
<line x1="334.00" y1="439.60" x2="334.00" y2="444.60" stroke="#f4a0a0" stroke-width="0.6" />
<line x1="332.80" y1="439.60" x2="335.20" y2="439.60" stroke="#f4a0a0" stroke-width="0.6" />
<line x1="332.80" y1="444.60" x2="335.20" y2="444.60" stroke="#f4a0a0" stroke-width="0.6" />
<line x1="340.20" y1="448.00" x2="340.20" y2="453.00" stroke="#f4a0a0" stroke-width="0.6" />
<line x1="339.00" y1="448.00" x2="341.40" y2="448.00" stroke="#f4a0a0" stroke-width="0.6" />
<line x1="339.00" y1="453.00" x2="341.40" y2="453.00" stroke="#f4a0a0" stroke-width="0.6" />
<line x1="347.00" y1="448.90" x2="347.00" y2="453.90" stroke="#f4a0a0" stroke-width="0.6" />
<line x1="345.80" y1="448.90" x2="348.20" y2="448.90" stroke="#f4a0a0" stroke-width="0.6" />
<line x1="345.80" y1="453.90" x2="348.20" y2="453.90" stroke="#f4a0a0" stroke-width="0.6" />
<line x1="353.40" y1="444.10" x2="353.40" y2="449.10" stroke="#f4a0a0" stroke-width="0.6" />
<line x1="352.20" y1="444.10" x2="354.60" y2="444.10" stroke="#f4a0a0" stroke-width="0.6" />
<line x1="352.20" y1="449.10" x2="354.60" y2="449.10" stroke="#f4a0a0" stroke-width="0.6" />
<line x1="359.70" y1="447.50" x2="359.70" y2="452.50" stroke="#f4a0a0" stroke-width="0.6" />
<line x1="358.50" y1="447.50" x2="360.90" y2="447.50" stroke="#f4a0a0" stroke-width="0.6" />
<line x1="358.50" y1="452.50" x2="360.90" y2="452.50" stroke="#f4a0a0" stroke-width="0.6" />
<line x1="366.10" y1="453.50" x2="366.10" y2="458.50" stroke="#f4a0a0" stroke-width="0.6" />
<line x1="364.90" y1="453.50" x2="367.30" y2="453.50" stroke="#f4a0a0" stroke-width="0.6" />
<line x1="364.90" y1="458.50" x2="367.30" y2="458.50" stroke="#f4a0a0" stroke-width="0.6" />
<line x1="372.90" y1="446.30" x2="372.90" y2="451.30" stroke="#f4a0a0" stroke-width="0.6" />
<line x1="371.70" y1="446.30" x2="374.10" y2="446.30" stroke="#f4a0a0" stroke-width="0.6" />
<line x1="371.70" y1="451.30" x2="374.10" y2="451.30" stroke="#f4a0a0" stroke-width="0.6" />
<line x1="379.20" y1="450.90" x2="379.20" y2="455.90" stroke="#f4a0a0" stroke-width="0.6" />
<line x1="378.00" y1="450.90" x2="380.40" y2="450.90" stroke="#f4a0a0" stroke-width="0.6" />
<line x1="378.00" y1="455.90" x2="380.40" y2="455.90" stroke="#f4a0a0" stroke-width="0.6" />
<line x1="385.60" y1="456.00" x2="385.60" y2="461.00" stroke="#f4a0a0" stroke-width="0.6" />
<line x1="384.40" y1="456.00" x2="386.80" y2="456.00" stroke="#f4a0a0" stroke-width="0.6" />
<line x1="384.40" y1="461.00" x2="386.80" y2="461.00" stroke="#f4a0a0" stroke-width="0.6" />
<line x1="391.90" y1="451.30" x2="391.90" y2="456.30" stroke="#f4a0a0" stroke-width="0.6" />
<line x1="390.70" y1="451.30" x2="393.10" y2="451.30" stroke="#f4a0a0" stroke-width="0.6" />
<line x1="390.70" y1="456.30" x2="393.10" y2="456.30" stroke="#f4a0a0" stroke-width="0.6" />
<line x1="398.30" y1="454.30" x2="398.30" y2="459.30" stroke="#f4a0a0" stroke-width="0.6" />
<line x1="397.10" y1="454.30" x2="399.50" y2="454.30" stroke="#f4a0a0" stroke-width="0.6" />
<line x1="397.10" y1="459.30" x2="399.50" y2="459.30" stroke="#f4a0a0" stroke-width="0.6" />
<line x1="404.90" y1="460.20" x2="404.90" y2="465.20" stroke="#f4a0a0" stroke-width="0.6" />
<line x1="403.70" y1="460.20" x2="406.10" y2="460.20" stroke="#f4a0a0" stroke-width="0.6" />
<line x1="403.70" y1="465.20" x2="406.10" y2="465.20" stroke="#f4a0a0" stroke-width="0.6" />
<polyline points="250.20,400.00 256.80,400.20 263.40,409.30 269.60,411.10 276.30,409.60 282.60,404.90 289.00,411.10 295.30,418.00 301.80,418.00 308.30,418.60 314.90,409.90 321.30,418.00 327.70,421.20 334.00,420.10 340.20,421.80 347.00,412.80 353.40,418.40 359.70,412.80 366.10,419.20 372.90,419.20 379.20,409.90 385.60,422.10 391.90,427.70 398.30,419.60 404.90,420.70" fill="none" stroke="#000" stroke-width="1.0" stroke-linejoin="round"/>
<polyline points="250.20,405.50 256.80,400.20 263.40,401.80 269.60,411.40 276.30,413.00 282.60,421.30 289.00,417.60 295.30,422.00 301.80,415.80 308.30,419.80 314.90,432.00 321.30,433.70 327.70,437.70 334.00,442.10 340.20,450.50 347.00,451.40 353.40,446.60 359.70,450.00 366.10,456.00 372.90,448.80 379.20,453.40 385.60,458.50 391.90,453.80 398.30,456.80 404.90,462.70" fill="none" stroke="#ff0000" stroke-width="1.1" stroke-linejoin="round"/>
<circle cx="250.20" cy="400.00" r="1.9" fill="#555" stroke="#000" stroke-width="1.0"/>
<circle cx="256.80" cy="400.20" r="1.9" fill="#555" stroke="#000" stroke-width="1.0"/>
<circle cx="263.40" cy="409.30" r="1.9" fill="#555" stroke="#000" stroke-width="1.0"/>
<circle cx="269.60" cy="411.10" r="1.9" fill="#555" stroke="#000" stroke-width="1.0"/>
<circle cx="276.30" cy="409.60" r="1.9" fill="#555" stroke="#000" stroke-width="1.0"/>
<circle cx="282.60" cy="404.90" r="1.9" fill="#555" stroke="#000" stroke-width="1.0"/>
<circle cx="289.00" cy="411.10" r="1.9" fill="#555" stroke="#000" stroke-width="1.0"/>
<circle cx="295.30" cy="418.00" r="1.9" fill="#555" stroke="#000" stroke-width="1.0"/>
<circle cx="301.80" cy="418.00" r="1.9" fill="#555" stroke="#000" stroke-width="1.0"/>
<circle cx="308.30" cy="418.60" r="1.9" fill="#555" stroke="#000" stroke-width="1.0"/>
<circle cx="314.90" cy="409.90" r="1.9" fill="#555" stroke="#000" stroke-width="1.0"/>
<circle cx="321.30" cy="418.00" r="1.9" fill="#555" stroke="#000" stroke-width="1.0"/>
<circle cx="327.70" cy="421.20" r="1.9" fill="#555" stroke="#000" stroke-width="1.0"/>
<circle cx="334.00" cy="420.10" r="1.9" fill="#555" stroke="#000" stroke-width="1.0"/>
<circle cx="340.20" cy="421.80" r="1.9" fill="#555" stroke="#000" stroke-width="1.0"/>
<circle cx="347.00" cy="412.80" r="1.9" fill="#555" stroke="#000" stroke-width="1.0"/>
<circle cx="353.40" cy="418.40" r="1.9" fill="#555" stroke="#000" stroke-width="1.0"/>
<circle cx="359.70" cy="412.80" r="1.9" fill="#555" stroke="#000" stroke-width="1.0"/>
<circle cx="366.10" cy="419.20" r="1.9" fill="#555" stroke="#000" stroke-width="1.0"/>
<circle cx="372.90" cy="419.20" r="1.9" fill="#555" stroke="#000" stroke-width="1.0"/>
<circle cx="379.20" cy="409.90" r="1.9" fill="#555" stroke="#000" stroke-width="1.0"/>
<circle cx="385.60" cy="422.10" r="1.9" fill="#555" stroke="#000" stroke-width="1.0"/>
<circle cx="391.90" cy="427.70" r="1.9" fill="#555" stroke="#000" stroke-width="1.0"/>
<circle cx="398.30" cy="419.60" r="1.9" fill="#555" stroke="#000" stroke-width="1.0"/>
<circle cx="404.90" cy="420.70" r="1.9" fill="#555" stroke="#000" stroke-width="1.0"/>
<circle cx="250.20" cy="405.50" r="1.9" fill="#ff7070" stroke="#ff0000" stroke-width="1.0"/>
<circle cx="256.80" cy="400.20" r="1.9" fill="#ff7070" stroke="#ff0000" stroke-width="1.0"/>
<circle cx="263.40" cy="401.80" r="1.9" fill="#ff7070" stroke="#ff0000" stroke-width="1.0"/>
<circle cx="269.60" cy="411.40" r="1.9" fill="#ff7070" stroke="#ff0000" stroke-width="1.0"/>
<circle cx="276.30" cy="413.00" r="1.9" fill="#ff7070" stroke="#ff0000" stroke-width="1.0"/>
<circle cx="282.60" cy="421.30" r="1.9" fill="#ff7070" stroke="#ff0000" stroke-width="1.0"/>
<circle cx="289.00" cy="417.60" r="1.9" fill="#ff7070" stroke="#ff0000" stroke-width="1.0"/>
<circle cx="295.30" cy="422.00" r="1.9" fill="#ff7070" stroke="#ff0000" stroke-width="1.0"/>
<circle cx="301.80" cy="415.80" r="1.9" fill="#ff7070" stroke="#ff0000" stroke-width="1.0"/>
<circle cx="308.30" cy="419.80" r="1.9" fill="#ff7070" stroke="#ff0000" stroke-width="1.0"/>
<circle cx="314.90" cy="432.00" r="1.9" fill="#ff7070" stroke="#ff0000" stroke-width="1.0"/>
<circle cx="321.30" cy="433.70" r="1.9" fill="#ff7070" stroke="#ff0000" stroke-width="1.0"/>
<circle cx="327.70" cy="437.70" r="1.9" fill="#ff7070" stroke="#ff0000" stroke-width="1.0"/>
<circle cx="334.00" cy="442.10" r="1.9" fill="#ff7070" stroke="#ff0000" stroke-width="1.0"/>
<circle cx="340.20" cy="450.50" r="1.9" fill="#ff7070" stroke="#ff0000" stroke-width="1.0"/>
<circle cx="347.00" cy="451.40" r="1.9" fill="#ff7070" stroke="#ff0000" stroke-width="1.0"/>
<circle cx="353.40" cy="446.60" r="1.9" fill="#ff7070" stroke="#ff0000" stroke-width="1.0"/>
<circle cx="359.70" cy="450.00" r="1.9" fill="#ff7070" stroke="#ff0000" stroke-width="1.0"/>
<circle cx="366.10" cy="456.00" r="1.9" fill="#ff7070" stroke="#ff0000" stroke-width="1.0"/>
<circle cx="372.90" cy="448.80" r="1.9" fill="#ff7070" stroke="#ff0000" stroke-width="1.0"/>
<circle cx="379.20" cy="453.40" r="1.9" fill="#ff7070" stroke="#ff0000" stroke-width="1.0"/>
<circle cx="385.60" cy="458.50" r="1.9" fill="#ff7070" stroke="#ff0000" stroke-width="1.0"/>
<circle cx="391.90" cy="453.80" r="1.9" fill="#ff7070" stroke="#ff0000" stroke-width="1.0"/>
<circle cx="398.30" cy="456.80" r="1.9" fill="#ff7070" stroke="#ff0000" stroke-width="1.0"/>
<circle cx="404.90" cy="462.70" r="1.9" fill="#ff7070" stroke="#ff0000" stroke-width="1.0"/>
<rect x="255.10" y="355.80" width="58.30" height="15.70" fill="#000" stroke="none" stroke-width="0"/>
<rect x="253.60" y="354.30" width="58.30" height="15.70" fill="#fff" stroke="#c8c8c8" stroke-width="0.6"/>
<line x1="254.40" y1="358.20" x2="267.90" y2="358.20" stroke="#000" stroke-width="0.9" />
<circle cx="261.15" cy="358.20" r="1.8" fill="#555" stroke="#000" stroke-width="0.9"/>
<text x="270.00" y="360.50" font-family='"Liberation Serif", serif' font-size="6.9" font-weight="bold" text-anchor="start" fill="#000"  stroke="#000" stroke-width="0.1">MDA-MB-231</text>
<line x1="254.40" y1="366.60" x2="267.90" y2="366.60" stroke="#ff0000" stroke-width="0.9" />
<circle cx="261.15" cy="366.60" r="1.8" fill="#ff9090" stroke="#ff0000" stroke-width="0.9"/>
<text x="270.00" y="368.90" font-family='"Liberation Serif", serif' font-size="6.9" font-weight="bold" text-anchor="start" fill="#000"  stroke="#000" stroke-width="0.1">IA μM</text>
<text transform="translate(425.72 246.65) scale(0.945 1)" font-family='"Liberation Sans", sans-serif' font-size="15.07" font-weight="bold" fill="#000" stroke="#000" stroke-width="0.3">H</text>
<line x1="454.60" y1="262.20" x2="454.60" y2="343.80" stroke="#000" stroke-width="1.8" />
<line x1="454.60" y1="348.20" x2="454.60" y2="427.40" stroke="#000" stroke-width="1.8" />
<line x1="679.50" y1="262.20" x2="679.50" y2="343.30" stroke="#000" stroke-width="1.8" />
<line x1="679.50" y1="347.70" x2="679.50" y2="427.40" stroke="#000" stroke-width="1.8" />
<line x1="453.70" y1="263.10" x2="680.40" y2="263.10" stroke="#000" stroke-width="1.8" />
<line x1="453.70" y1="426.50" x2="680.40" y2="426.50" stroke="#000" stroke-width="1.8" />
<line x1="451.80" y1="345.80" x2="457.40" y2="343.80" stroke="#000" stroke-width="1.0" />
<line x1="451.80" y1="348.20" x2="457.40" y2="346.20" stroke="#000" stroke-width="1.0" />
<line x1="676.70" y1="345.30" x2="682.30" y2="343.30" stroke="#000" stroke-width="1.0" />
<line x1="676.70" y1="347.70" x2="682.30" y2="345.70" stroke="#000" stroke-width="1.0" />
<line x1="454.60" y1="322.90" x2="457.60" y2="322.90" stroke="#000" stroke-width="1.2" />
<text transform="translate(449.80 326.20) scale(1.05 1)" font-family='"Liberation Sans", sans-serif' font-size="9.5" font-weight="bold" text-anchor="end" fill="#000"  stroke="#000" stroke-width="0.05">260</text>
<line x1="454.60" y1="283.10" x2="457.60" y2="283.10" stroke="#000" stroke-width="1.2" />
<text transform="translate(449.80 286.40) scale(1.05 1)" font-family='"Liberation Sans", sans-serif' font-size="9.5" font-weight="bold" text-anchor="end" fill="#000"  stroke="#000" stroke-width="0.05">280</text>
<line x1="454.60" y1="426.60" x2="457.60" y2="426.60" stroke="#000" stroke-width="1.2" />
<text transform="translate(449.80 429.90) scale(1.05 1)" font-family='"Liberation Sans", sans-serif' font-size="9.5" font-weight="bold" text-anchor="end" fill="#000"  stroke="#000" stroke-width="0.05">140</text>
<line x1="454.60" y1="399.80" x2="457.60" y2="399.80" stroke="#000" stroke-width="1.2" />
<text transform="translate(449.80 403.10) scale(1.05 1)" font-family='"Liberation Sans", sans-serif' font-size="9.5" font-weight="bold" text-anchor="end" fill="#000"  stroke="#000" stroke-width="0.05">160</text>
<line x1="454.60" y1="373.00" x2="457.60" y2="373.00" stroke="#000" stroke-width="1.2" />
<text transform="translate(449.80 376.30) scale(1.05 1)" font-family='"Liberation Sans", sans-serif' font-size="9.5" font-weight="bold" text-anchor="end" fill="#000"  stroke="#000" stroke-width="0.05">180</text>
<line x1="471.80" y1="426.50" x2="471.80" y2="423.50" stroke="#000" stroke-width="1.2" />
<text transform="translate(471.80 437.80) scale(1.05 1)" font-family='"Liberation Sans", sans-serif' font-size="9.5" font-weight="bold" text-anchor="middle" fill="#000"  stroke="#000" stroke-width="0.05">4</text>
<line x1="506.30" y1="426.50" x2="506.30" y2="423.50" stroke="#000" stroke-width="1.2" />
<text transform="translate(506.30 437.80) scale(1.05 1)" font-family='"Liberation Sans", sans-serif' font-size="9.5" font-weight="bold" text-anchor="middle" fill="#000"  stroke="#000" stroke-width="0.05">6</text>
<line x1="540.80" y1="426.50" x2="540.80" y2="423.50" stroke="#000" stroke-width="1.2" />
<text transform="translate(540.80 437.80) scale(1.05 1)" font-family='"Liberation Sans", sans-serif' font-size="9.5" font-weight="bold" text-anchor="middle" fill="#000"  stroke="#000" stroke-width="0.05">8</text>
<line x1="575.30" y1="426.50" x2="575.30" y2="423.50" stroke="#000" stroke-width="1.2" />
<text transform="translate(575.30 437.80) scale(1.05 1)" font-family='"Liberation Sans", sans-serif' font-size="9.5" font-weight="bold" text-anchor="middle" fill="#000"  stroke="#000" stroke-width="0.05">10</text>
<line x1="609.80" y1="426.50" x2="609.80" y2="423.50" stroke="#000" stroke-width="1.2" />
<text transform="translate(609.80 437.80) scale(1.05 1)" font-family='"Liberation Sans", sans-serif' font-size="9.5" font-weight="bold" text-anchor="middle" fill="#000"  stroke="#000" stroke-width="0.05">12</text>
<line x1="644.30" y1="426.50" x2="644.30" y2="423.50" stroke="#000" stroke-width="1.2" />
<text transform="translate(644.30 437.80) scale(1.05 1)" font-family='"Liberation Sans", sans-serif' font-size="9.5" font-weight="bold" text-anchor="middle" fill="#000"  stroke="#000" stroke-width="0.05">14</text>
<line x1="678.80" y1="426.50" x2="678.80" y2="423.50" stroke="#000" stroke-width="1.2" />
<text transform="translate(678.80 437.80) scale(1.05 1)" font-family='"Liberation Sans", sans-serif' font-size="9.5" font-weight="bold" text-anchor="middle" fill="#000"  stroke="#000" stroke-width="0.05">16</text>
<text transform="translate(427.71 353.59) rotate(-90) scale(1.072 1)" font-family='"Liberation Sans", sans-serif' font-size="9.15" font-weight="bold" fill="#000" stroke="#000" stroke-width="0.1">OCR</text>
<text transform="translate(545.51 454.12) scale(1.276 1)" font-family='"Liberation Sans", sans-serif' font-size="8.31" font-weight="bold" fill="#000" stroke="#000" stroke-width="0.1">ECAR</text>
<path d="M480.3,309.7 C485,301 490,294 497.9,292.6 C503,292 508,294.5 513.7,296.5 C530,302 548,306 560.5,313.6 C572,321 583,331 593.2,339" fill="none" stroke="#0000ff" stroke-width="1.2"/>
<line x1="480.30" y1="302.20" x2="480.30" y2="317.20" stroke="#9090d0" stroke-width="0.7" />
<line x1="478.80" y1="302.20" x2="481.80" y2="302.20" stroke="#9090d0" stroke-width="0.7" />
<line x1="478.80" y1="317.20" x2="481.80" y2="317.20" stroke="#9090d0" stroke-width="0.7" />
<line x1="497.90" y1="284.10" x2="497.90" y2="301.10" stroke="#9090d0" stroke-width="0.7" />
<line x1="496.40" y1="284.10" x2="499.40" y2="284.10" stroke="#9090d0" stroke-width="0.7" />
<line x1="496.40" y1="301.10" x2="499.40" y2="301.10" stroke="#9090d0" stroke-width="0.7" />
<line x1="513.70" y1="290.50" x2="513.70" y2="302.50" stroke="#9090d0" stroke-width="0.7" />
<line x1="512.20" y1="290.50" x2="515.20" y2="290.50" stroke="#9090d0" stroke-width="0.7" />
<line x1="512.20" y1="302.50" x2="515.20" y2="302.50" stroke="#9090d0" stroke-width="0.7" />
<line x1="553.30" y1="313.60" x2="567.70" y2="313.60" stroke="#a0a0e0" stroke-width="0.7" />
<line x1="553.30" y1="312.00" x2="553.30" y2="315.20" stroke="#a0a0e0" stroke-width="0.7" />
<line x1="567.70" y1="312.00" x2="567.70" y2="315.20" stroke="#a0a0e0" stroke-width="0.7" />
<ellipse cx="480.30" cy="309.70" rx="3.5" ry="2.9" fill="#0000f0"/>
<ellipse cx="479.30" cy="308.80" rx="1.1" ry="0.8" fill="#b0b0ff"/>
<ellipse cx="497.90" cy="292.60" rx="3.5" ry="2.9" fill="#0000f0"/>
<ellipse cx="496.90" cy="291.70" rx="1.1" ry="0.8" fill="#b0b0ff"/>
<ellipse cx="513.70" cy="296.50" rx="3.5" ry="2.9" fill="#0000f0"/>
<ellipse cx="512.70" cy="295.60" rx="1.1" ry="0.8" fill="#b0b0ff"/>
<ellipse cx="560.50" cy="313.60" rx="3.5" ry="2.9" fill="#0000f0"/>
<ellipse cx="559.50" cy="312.70" rx="1.1" ry="0.8" fill="#b0b0ff"/>
<ellipse cx="593.20" cy="339.00" rx="3.5" ry="2.9" fill="#0000f0"/>
<ellipse cx="592.20" cy="338.10" rx="1.1" ry="0.8" fill="#b0b0ff"/>
<text transform="translate(464.12 297.70) scale(1.040 1)" font-family='"Liberation Sans", sans-serif' font-size="7.60" font-weight="bold" fill="#1c1c80" stroke="#1c1c80" stroke-width="0.2">20μM</text>
<text transform="translate(486.23 278.40) scale(1.145 1)" font-family='"Liberation Sans", sans-serif' font-size="7.60" font-weight="bold" fill="#1c1c80" stroke="#1c1c80" stroke-width="0.2">15μM</text>
<text transform="translate(514.64 288.70) scale(1.139 1)" font-family='"Liberation Sans", sans-serif' font-size="7.60" font-weight="bold" fill="#1c1c80" stroke="#1c1c80" stroke-width="0.2">10μM</text>
<text transform="translate(558.25 301.80) scale(1.098 1)" font-family='"Liberation Sans", sans-serif' font-size="7.60" font-weight="bold" fill="#1c1c80" stroke="#1c1c80" stroke-width="0.2">5μM</text>
<text transform="translate(590.73 328.63) scale(1.374 1)" font-family='"Liberation Sans", sans-serif' font-size="6.67" font-weight="bold" fill="#1c1c80" stroke="#1c1c80" stroke-width="0.2">Control</text>
<path d="M477.8,367.1 C487,376 495,383 505.1,388.1 C515,393 527,396 537.9,400.4 C556,408 576,416.5 595,416.5 C603,416.5 608,415.5 612.1,414.6 C626,410 640,399 650.4,390" fill="none" stroke="#ff2020" stroke-width="1.2"/>
<line x1="477.80" y1="348.10" x2="477.80" y2="386.10" stroke="#f0a0a0" stroke-width="0.7" />
<line x1="476.30" y1="348.10" x2="479.30" y2="348.10" stroke="#f0a0a0" stroke-width="0.7" />
<line x1="476.30" y1="386.10" x2="479.30" y2="386.10" stroke="#f0a0a0" stroke-width="0.7" />
<line x1="469.80" y1="367.10" x2="485.80" y2="367.10" stroke="#f0a0a0" stroke-width="0.7" />
<line x1="469.80" y1="365.50" x2="469.80" y2="368.70" stroke="#f0a0a0" stroke-width="0.7" />
<line x1="485.80" y1="365.50" x2="485.80" y2="368.70" stroke="#f0a0a0" stroke-width="0.7" />
<line x1="505.10" y1="374.60" x2="505.10" y2="401.60" stroke="#f0a0a0" stroke-width="0.7" />
<line x1="503.60" y1="374.60" x2="506.60" y2="374.60" stroke="#f0a0a0" stroke-width="0.7" />
<line x1="503.60" y1="401.60" x2="506.60" y2="401.60" stroke="#f0a0a0" stroke-width="0.7" />
<line x1="496.80" y1="388.10" x2="513.40" y2="388.10" stroke="#f0a0a0" stroke-width="0.7" />
<line x1="496.80" y1="386.50" x2="496.80" y2="389.70" stroke="#f0a0a0" stroke-width="0.7" />
<line x1="513.40" y1="386.50" x2="513.40" y2="389.70" stroke="#f0a0a0" stroke-width="0.7" />
<line x1="537.90" y1="389.40" x2="537.90" y2="411.40" stroke="#f0a0a0" stroke-width="0.7" />
<line x1="536.40" y1="389.40" x2="539.40" y2="389.40" stroke="#f0a0a0" stroke-width="0.7" />
<line x1="536.40" y1="411.40" x2="539.40" y2="411.40" stroke="#f0a0a0" stroke-width="0.7" />
<line x1="528.50" y1="400.40" x2="547.30" y2="400.40" stroke="#f0a0a0" stroke-width="0.7" />
<line x1="528.50" y1="398.80" x2="528.50" y2="402.00" stroke="#f0a0a0" stroke-width="0.7" />
<line x1="547.30" y1="398.80" x2="547.30" y2="402.00" stroke="#f0a0a0" stroke-width="0.7" />
<line x1="612.10" y1="407.30" x2="612.10" y2="421.90" stroke="#f0a0a0" stroke-width="0.7" />
<line x1="610.60" y1="407.30" x2="613.60" y2="407.30" stroke="#f0a0a0" stroke-width="0.7" />
<line x1="610.60" y1="421.90" x2="613.60" y2="421.90" stroke="#f0a0a0" stroke-width="0.7" />
<line x1="601.40" y1="414.60" x2="622.80" y2="414.60" stroke="#f0a0a0" stroke-width="0.7" />
<line x1="601.40" y1="413.00" x2="601.40" y2="416.20" stroke="#f0a0a0" stroke-width="0.7" />
<line x1="622.80" y1="413.00" x2="622.80" y2="416.20" stroke="#f0a0a0" stroke-width="0.7" />
<line x1="645.20" y1="390.00" x2="655.60" y2="390.00" stroke="#f0a0a0" stroke-width="0.7" />
<line x1="645.20" y1="388.40" x2="645.20" y2="391.60" stroke="#f0a0a0" stroke-width="0.7" />
<line x1="655.60" y1="388.40" x2="655.60" y2="391.60" stroke="#f0a0a0" stroke-width="0.7" />
<circle cx="477.80" cy="367.10" r="3.4" fill="#fff" stroke="#f04040" stroke-width="0.9"/>
<circle cx="505.10" cy="388.10" r="3.4" fill="#fff" stroke="#f04040" stroke-width="0.9"/>
<circle cx="537.90" cy="400.40" r="3.4" fill="#fff" stroke="#f04040" stroke-width="0.9"/>
<circle cx="612.10" cy="414.60" r="3.4" fill="#fff" stroke="#f04040" stroke-width="0.9"/>
<circle cx="650.40" cy="390.00" r="3.4" fill="#fff" stroke="#f04040" stroke-width="0.9"/>
<text transform="translate(464.99 396.90) scale(1.158 1)" font-family='"Liberation Sans", sans-serif' font-size="7.60" font-weight="bold" fill="#8b1a1a" stroke="#8b1a1a" stroke-width="0.2">20μM</text>
<text transform="translate(495.34 410.70) scale(1.139 1)" font-family='"Liberation Sans", sans-serif' font-size="7.60" font-weight="bold" fill="#8b1a1a" stroke="#8b1a1a" stroke-width="0.2">15μM</text>
<text transform="translate(528.93 421.20) scale(1.150 1)" font-family='"Liberation Sans", sans-serif' font-size="7.60" font-weight="bold" fill="#8b1a1a" stroke="#8b1a1a" stroke-width="0.2">10μM</text>
<text transform="translate(627.95 418.60) scale(1.112 1)" font-family='"Liberation Sans", sans-serif' font-size="7.60" font-weight="bold" fill="#8b1a1a" stroke="#8b1a1a" stroke-width="0.2">5μM</text>
<text transform="translate(630.53 380.84) scale(1.437 1)" font-family='"Liberation Sans", sans-serif' font-size="6.39" font-weight="bold" fill="#8b1a1a" stroke="#8b1a1a" stroke-width="0.2">Control</text>
<line x1="562.00" y1="372.60" x2="599.00" y2="372.60" stroke="#000" stroke-width="2.0" />
<path d="M554.6,372.6 L565.5,368.8 L562.5,372.6 L565.5,376.4 Z" fill="#000"/>
<text transform="translate(569.22 364.64) scale(1.181 1)" font-family='"Liberation Sans", sans-serif' font-size="8.88" font-weight="bold" fill="#000" stroke="#000" stroke-width="0.15">[IA]</text>
<rect x="599.70" y="268.60" width="79.80" height="20.80" fill="#000" stroke="none" stroke-width="0"/>
<rect x="597.60" y="266.20" width="78.40" height="20.80" fill="#fff" stroke="#c8c8c8" stroke-width="0.6"/>
<line x1="598.20" y1="272.10" x2="615.50" y2="272.10" stroke="#0000ff" stroke-width="1.0" />
<ellipse cx="606.80" cy="272.10" rx="3.6" ry="3.2" fill="#0000f0"/>
<ellipse cx="605.80" cy="271.20" rx="1.1" ry="0.8" fill="#b0b0ff"/>
<line x1="598.20" y1="282.40" x2="615.50" y2="282.40" stroke="#ff4040" stroke-width="1.0" />
<circle cx="606.80" cy="282.40" r="3.4" fill="#fff" stroke="#f04040" stroke-width="0.9"/>
<text x="619.30" y="275.30" font-family='"Liberation Sans", sans-serif' font-size="8.4" font-weight="bold" text-anchor="start" fill="#000"  stroke="#000" stroke-width="0.05">MCF7</text>
<text x="619.30" y="285.60" font-family='"Liberation Sans", sans-serif' font-size="8.4" font-weight="bold" text-anchor="start" fill="#000"  stroke="#000" stroke-width="0.05">MDA-MB-231</text>
</svg></body></html>
